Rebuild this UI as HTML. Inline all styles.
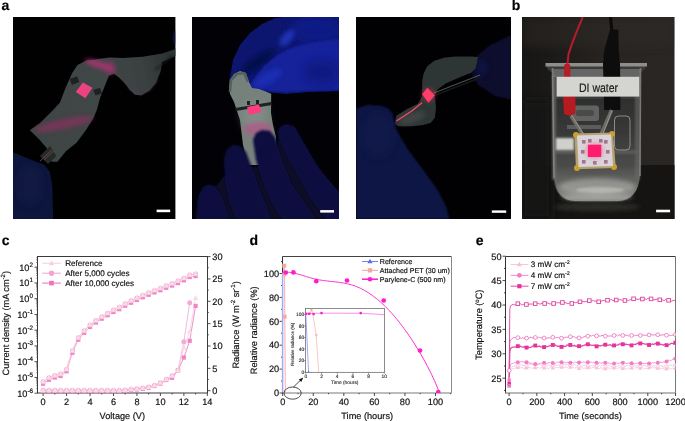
<!DOCTYPE html>
<html><head><meta charset="utf-8"><style>
html,body{margin:0;padding:0;background:#fff;}
body{width:685px;height:421px;overflow:hidden;font-family:"Liberation Sans",sans-serif;}
svg{display:block;will-change:transform;}
svg text{font-family:"Liberation Sans",sans-serif;stroke:#111;stroke-width:0.18px;text-rendering:geometricPrecision;}
</style></head><body>
<svg width="685" height="421" viewBox="0 0 685 421">
<rect width="685" height="421" fill="#fff"/>
<defs>
<filter id="b03" x="-20%" y="-20%" width="140%" height="140%"><feGaussianBlur stdDeviation="0.35"/></filter>
<filter id="b06" x="-20%" y="-20%" width="140%" height="140%"><feGaussianBlur stdDeviation="0.6"/></filter>
<filter id="b1" x="-30%" y="-30%" width="160%" height="160%"><feGaussianBlur stdDeviation="1"/></filter>
<filter id="b2" x="-50%" y="-50%" width="200%" height="200%"><feGaussianBlur stdDeviation="2"/></filter>
<filter id="b4" x="-50%" y="-50%" width="200%" height="200%"><feGaussianBlur stdDeviation="4"/></filter>
<filter id="b7" x="-80%" y="-80%" width="260%" height="260%"><feGaussianBlur stdDeviation="7"/></filter>
<clipPath id="p1"><rect x="13" y="17" width="162.4" height="202"/></clipPath>
<clipPath id="p2"><rect x="192" y="17" width="147.1" height="202"/></clipPath>
<clipPath id="p3"><rect x="356" y="17" width="155" height="202"/></clipPath>
<clipPath id="p4"><rect x="522" y="17" width="152.5" height="202"/></clipPath>
<linearGradient id="g1film" x1="0" y1="0.5" x2="1" y2="0.3"><stop offset="0" stop-color="#3e4444"/><stop offset="0.55" stop-color="#404646"/><stop offset="0.8" stop-color="#3a4040"/><stop offset="1" stop-color="#2c3232"/></linearGradient>
<linearGradient id="g2glove" x1="0" y1="0.6" x2="1" y2="0.2"><stop offset="0" stop-color="#0a1164"/><stop offset="0.45" stop-color="#111e90"/><stop offset="1" stop-color="#1e2eb8"/></linearGradient>
<linearGradient id="g4bg" x1="0" y1="0" x2="1" y2="0"><stop offset="0" stop-color="#171615"/><stop offset="0.2" stop-color="#1c1a18"/><stop offset="0.6" stop-color="#292523"/><stop offset="1" stop-color="#292624"/></linearGradient>
<linearGradient id="g4water" x1="0" y1="0" x2="0" y2="1"><stop offset="0" stop-color="#2e2f2e"/><stop offset="0.33" stop-color="#383938"/><stop offset="0.65" stop-color="#4a4b4a"/><stop offset="0.8" stop-color="#626361"/><stop offset="1" stop-color="#8e8f8b"/></linearGradient>
</defs>
<g clip-path="url(#p1)">
<rect x="13" y="17" width="163" height="202" fill="#010102"/>
<polygon points="77.5,64.9 86.3,60.5 95.0,59.6 105.5,57.9 110.0,57.4 123.0,58.1 142.7,56.8 162.3,53.5 174.0,49.6 176.0,48.0 176.0,56.0 172.0,57.5 162.3,62.0 160.3,72.5 155.8,82.9 149.2,90.8 141.4,95.3 134.8,94.7 129.6,89.4 124.4,82.9 119.2,77.7 113.9,73.8 109.1,75.4 107.3,79.8 100.3,97.3 96.8,110.0 93.5,118.0 86.0,130.0 76.5,142.7 65.9,151.2 57.4,161.7 51.8,161.7 46.6,148.0 38.9,139.0 29.8,130.2 40.0,123.0 53.1,110.0 60.0,102.6 65.3,88.5 72.3,72.8" fill="url(#g1film)" filter="url(#b03)"/>
<ellipse cx="100" cy="65" rx="16" ry="3.5" fill="#c8307a" opacity="0.7" filter="url(#b2)" transform="rotate(18 100 65)"/>
<ellipse cx="110" cy="68" rx="5" ry="7" fill="#a03070" opacity="0.55" filter="url(#b2)"/>
<polyline points="128,88 140,95 150,90 158,80" fill="none" stroke="#5a4060" stroke-width="1.5" opacity="0.5" filter="url(#b1)"/>
<line x1="155" y1="70" x2="174" y2="55" stroke="#1c2020" stroke-width="1.5" filter="url(#b1)"/>
<ellipse cx="64" cy="124" rx="30" ry="5" fill="#a02c68" opacity="0.55" filter="url(#b2)" transform="rotate(-12 64 124)"/>
<polygon points="69.6,79.0 77.0,76.3 79.3,82.0 72.0,85.0" fill="#1e2220" filter="url(#b03)"/>
<polygon points="93.3,90.0 100.0,87.7 102.0,93.5 95.5,95.5" fill="#1e2220" filter="url(#b03)"/>
<polygon points="75.8,92.0 82.8,82.4 92.4,87.7 85.4,98.2" fill="#ec4380" filter="url(#b03)"/>
<polygon points="40.0,156.0 50.0,146.0 56.4,156.0 48.0,164.0" fill="#262a26" filter="url(#b03)"/>
<line x1="40" y1="161" x2="52" y2="150" stroke="#a04060" stroke-width="0.8"/>
<line x1="44" y1="160" x2="54" y2="151" stroke="#4a7a50" stroke-width="0.6"/>
<polygon points="13.0,152.2 25.7,157.5 36.3,161.7 44.7,164.9 50.0,172.3 52.2,185.0 53.2,219.0 13.0,219.0" fill="#10153e" filter="url(#b06)"/>
<ellipse cx="30" cy="185" rx="12" ry="20" fill="#141a46" opacity="0.6" filter="url(#b4)"/>
<ellipse cx="175.5" cy="38" rx="2.5" ry="8" fill="#141a50" opacity="0.7" filter="url(#b1)"/>
<rect x="156.6" y="209.6" width="13.6" height="2.6" fill="#fff"/>
</g>
<g clip-path="url(#p2)">
<rect x="192" y="17" width="148" height="202" fill="#020206"/>
<polygon points="229.0,82.0 231.0,72.0 233.0,60.0 240.0,45.0 250.0,33.0 262.0,24.0 275.0,18.0 285.0,17.0 340.0,17.0 340.0,91.0 308.0,92.0 286.0,94.0 264.0,92.0 250.0,89.0 240.0,83.0 234.0,82.0" fill="#0b146e" filter="url(#b06)"/>
<ellipse cx="316" cy="30" rx="26" ry="14" fill="#111e8c" opacity="0.8" filter="url(#b4)"/>
<ellipse cx="258" cy="62" rx="20" ry="6" fill="#050a48" opacity="0.85" filter="url(#b2)" transform="rotate(-35 258 62)"/>
<polygon points="247.6,88.0 256.0,76.0 264.0,66.0 276.0,56.0 286.0,50.0 300.0,45.0 320.0,41.5 340.0,39.0 340.0,90.0 308.0,90.5 286.0,92.0 264.0,90.5" fill="#14229a" filter="url(#b1)"/>
<ellipse cx="268" cy="78" rx="16" ry="6" fill="#1c2eb4" opacity="0.9" filter="url(#b2)" transform="rotate(-30 268 78)"/>
<ellipse cx="287" cy="38" rx="5" ry="10" fill="#2236bc" opacity="0.9" filter="url(#b2)" transform="rotate(40 287 38)"/>
<ellipse cx="322" cy="72" rx="18" ry="12" fill="#0c1878" opacity="0.7" filter="url(#b4)"/>
<polygon points="229.0,88.0 230.0,80.0 234.0,74.0 240.0,71.0 246.0,73.0 249.0,82.0 252.0,88.0 259.2,89.0 271.2,93.8 271.0,113.0 273.0,125.0 276.0,137.0 275.0,160.0 262.0,165.0 248.0,165.0 243.0,145.0 240.0,120.0 234.0,102.0 230.0,94.0" fill="#76817b" filter="url(#b03)"/>
<ellipse cx="254" cy="116" rx="12" ry="14" fill="#8a948e" opacity="0.6" filter="url(#b4)"/>
<polyline points="230,92 231,80 237,74 244,73 248,82" fill="none" stroke="#55605a" stroke-width="2.5" filter="url(#b06)"/>
<ellipse cx="258" cy="129" rx="14" ry="7" fill="#c04c8a" opacity="0.6" filter="url(#b2)"/>
<polygon points="235.0,108.0 271.0,102.0 272.0,105.0 236.0,111.0" fill="#1c2120" filter="url(#b03)"/>
<rect x="247" y="101" width="3" height="4" fill="#1c2120"/><rect x="256" y="100" width="3" height="4" fill="#1c2120"/>
<polygon points="247.0,107.0 259.0,104.5 261.5,112.0 249.0,115.0" fill="#ff3a82" filter="url(#b03)"/>
<polygon points="195.0,219.0 197.0,200.0 199.0,195.0 206.0,185.0 216.0,186.0 222.0,178.0 230.0,172.0 245.0,168.0 262.0,166.0 276.0,150.0 280.0,128.0 284.0,124.0 294.0,127.0 304.0,143.0 318.0,167.0 334.0,186.0 340.0,192.0 340.0,219.0" fill="#070a26" filter="url(#b1)"/>
<polygon points="197.0,219.0 199.0,195.0 203.0,187.0 208.0,184.5 214.0,186.0 220.0,193.0 225.0,205.0 229.0,219.0" fill="#0b1040" filter="url(#b1)"/>
<polygon points="224.0,158.0 227.0,149.0 233.0,145.0 240.0,146.0 246.0,152.0 252.0,168.0 259.0,188.0 266.0,205.0 271.0,219.0 236.0,219.0 229.0,200.0 225.0,180.0" fill="#0b1040" filter="url(#b1)"/>
<polygon points="253.0,140.0 256.0,133.0 262.0,130.0 270.0,131.0 275.0,137.0 282.0,160.0 292.0,185.0 305.0,203.0 316.0,219.0 282.0,219.0 272.0,203.0 263.0,182.0 256.0,160.0" fill="#0b1040" filter="url(#b1)"/>
<polygon points="277.0,132.0 281.0,126.0 288.0,124.0 295.0,127.0 303.0,142.0 318.0,167.0 333.0,186.0 340.0,193.0 340.0,219.0 326.0,219.0 310.0,198.0 296.0,172.0 284.0,150.0" fill="#0b1040" filter="url(#b1)"/>
<rect x="320.2" y="210.1" width="13.8" height="2.5" fill="#fff"/>
</g>
<g clip-path="url(#p3)">
<rect x="356" y="17" width="155" height="202" fill="#010103"/>
<polygon points="472.0,62.0 478.0,55.0 490.0,45.0 511.0,35.0 511.0,100.0 495.0,96.0 478.0,85.0 472.0,75.0" fill="#090b2e" filter="url(#b1)"/>
<ellipse cx="482" cy="68" rx="6" ry="9" fill="#0e1248" opacity="0.6" filter="url(#b2)"/>
<polygon points="422.1,81.3 423.6,73.8 427.1,66.6 434.3,60.7 443.8,57.7 455.6,56.5 469.9,56.5 478.2,57.1 475.5,68.5 471.2,72.8 460.5,77.1 445.6,83.5 437.0,89.9 434.9,96.3 436.0,107.0 434.9,117.7 430.6,123.0 422.1,125.2 411.4,126.2 398.6,126.2 394.3,124.1 396.4,115.5 407.1,109.1 417.8,103.8 422.1,96.3 422.1,87.8" fill="#2f3535" filter="url(#b03)"/>
<ellipse cx="412" cy="118" rx="14" ry="5" fill="#444a48" opacity="0.8" filter="url(#b2)" transform="rotate(-20 412 118)"/>
<line x1="433" y1="96" x2="482" y2="77" stroke="#141816" stroke-width="1.6"/>
<line x1="434" y1="93" x2="480" y2="75" stroke="#8a9290" stroke-width="0.6"/>
<polyline points="396.4,120.9 411.4,111.3 422.1,102.7" fill="none" stroke="#ff4a6a" stroke-width="1.2"/>
<ellipse cx="428.5" cy="95" rx="7" ry="7" fill="#ff3060" opacity="0.35" filter="url(#b2)"/>
<polygon points="422.1,94.2 427.4,87.8 434.9,95.2 428.5,102.7" fill="#ff3c66" filter="url(#b06)"/>
<polygon points="356.0,108.5 368.0,105.0 381.4,105.7 389.0,109.0 392.7,114.1 395.6,128.3 406.9,148.0 423.8,170.7 438.0,190.4 446.4,207.4 449.3,219.0 356.0,219.0" fill="#111644" filter="url(#b1)"/>
<ellipse cx="378" cy="135" rx="16" ry="22" fill="#151a50" opacity="0.5" filter="url(#b4)"/>
<rect x="491.8" y="210.4" width="14.4" height="2.4" fill="#fff"/>
</g>
<g clip-path="url(#p4)">
<rect x="522" y="17" width="153" height="202" fill="url(#g4bg)"/>
<rect x="522" y="17" width="153" height="30" fill="#2e2926" opacity="0.5" filter="url(#b4)"/>
<rect x="522" y="165" width="153" height="54" fill="#151413"/>
<rect x="522" y="100" width="30" height="119" fill="#131313" opacity="0.8" filter="url(#b4)"/>
<path d="M545.5,64.5 L647,64.5 L645,69 L640.5,73 L640,175 Q638,201 618,202 L575,202 Q555,201 553.5,178 L552.5,73 L547.5,69 Z" fill="#3a3b3a" filter="url(#b03)"/>
<path d="M553.5,99 L640,99 L640,175 Q638,200 618,201 L575,201 Q556,200 554.5,178 Z" fill="url(#g4water)" filter="url(#b03)"/>
<rect x="553" y="69" width="87" height="8" fill="#707070" opacity="0.8" filter="url(#b06)"/>
<rect x="555.5" y="138" width="18.5" height="13" fill="#cfcfcb" filter="url(#b1)"/>
<rect x="552" y="75" width="4" height="105" fill="#7a7a78" opacity="0.6" filter="url(#b1)"/>
<rect x="635" y="75" width="5" height="105" fill="#6a6a68" opacity="0.6" filter="url(#b1)"/>
<rect x="553.5" y="150" width="86" height="4" fill="#5e5f5d" opacity="0.8" filter="url(#b1)"/>
<ellipse cx="597" cy="187" rx="38" ry="9" fill="#a8a8a4" opacity="0.65" filter="url(#b2)"/>
<ellipse cx="600" cy="190" rx="24" ry="3" fill="#d0d0cc" opacity="0.5" filter="url(#b1)"/>
<ellipse cx="597" cy="197" rx="36" ry="4" fill="#b8b8b4" opacity="0.45" filter="url(#b2)"/>
<ellipse cx="597" cy="207" rx="44" ry="4" fill="#2e2e2c" opacity="0.9" filter="url(#b2)"/>
<rect x="571" y="105.5" width="28" height="15.5" rx="3" fill="#8a8a88" opacity="0.55" filter="url(#b06)"/>
<rect x="576" y="110" width="18" height="6" rx="2" fill="#3a3a3a" opacity="0.6"/>
<rect x="567" y="125" width="34" height="4" fill="#8a8a88" opacity="0.45" filter="url(#b06)"/>
<rect x="614.5" y="116" width="15.5" height="34" rx="4" fill="none" stroke="#a0a09e" stroke-width="1" opacity="0.8"/>
<rect x="545.5" y="63" width="101.5" height="3.5" fill="#8e8e8c" filter="url(#b03)"/>
<line x1="552.5" y1="68" x2="554" y2="178" stroke="#8a8a88" stroke-width="1.6" opacity="0.8"/>
<line x1="640.5" y1="68" x2="640" y2="176" stroke="#8a8a88" stroke-width="1.6" opacity="0.8"/>
<path d="M582.8,17 C577.8,28.4 572.1,42.7 568.5,54.1 L567.3,66" fill="none" stroke="#b81c28" stroke-width="2"/>
<rect x="564.2" y="64" width="6" height="34" rx="1.5" fill="#b81c26" filter="url(#b03)"/>
<polygon points="563.0,96.4 575.5,96.4 575.5,113.0 570.7,116.0 564.0,114.0" fill="#b41a22" filter="url(#b03)"/>
<path d="M610.5,17 L611.8,30" fill="none" stroke="#0c0c0c" stroke-width="3.2"/>
<polygon points="610.0,29.8 618.5,29.8 618.8,49.8 620.0,64.0 620.6,110.0 604.2,110.0 603.0,64.0 604.2,49.8" fill="#111" filter="url(#b03)"/>
<line x1="571" y1="115.7" x2="586" y2="140" stroke="#6e6a64" stroke-width="3.6"/>
<line x1="611.6" y1="110" x2="599" y2="139" stroke="#6e6a64" stroke-width="3.6"/>
<line x1="571.5" y1="115" x2="589" y2="143" stroke="#a0a09c" stroke-width="0.8"/>
<line x1="612" y1="110.5" x2="599.5" y2="143" stroke="#a0a09c" stroke-width="0.8"/>
<polygon points="574.5,133.5 613.0,132.4 615.8,168.0 576.0,169.2" fill="#b8a070" filter="url(#b06)"/>
<circle cx="576" cy="135" r="3" fill="#c8a030" filter="url(#b06)"/>
<circle cx="612" cy="134" r="3" fill="#c8a030" filter="url(#b06)"/>
<circle cx="614" cy="167" r="3" fill="#c8a030" filter="url(#b06)"/>
<circle cx="577" cy="168" r="3" fill="#c8a030" filter="url(#b06)"/>
<polygon points="577.0,135.5 611.0,134.5 613.0,166.0 578.5,167.0" fill="#d8d4d8" filter="url(#b03)"/>
<rect x="582" y="140" width="3.6" height="3.6" fill="#9a5a80" opacity="0.8"/>
<rect x="604" y="140" width="3.6" height="3.6" fill="#9a5a80" opacity="0.8"/>
<rect x="582" y="160" width="3.6" height="3.6" fill="#9a5a80" opacity="0.8"/>
<rect x="604" y="160" width="3.6" height="3.6" fill="#9a5a80" opacity="0.8"/>
<rect x="593" y="161" width="3.6" height="3.6" fill="#9a5a80" opacity="0.8"/>
<rect x="581" y="150" width="3.6" height="3.6" fill="#9a5a80" opacity="0.8"/>
<rect x="606" y="150" width="3.6" height="3.6" fill="#9a5a80" opacity="0.8"/>
<rect x="588" y="139" width="3.6" height="3.6" fill="#9a5a80" opacity="0.8"/>
<rect x="599" y="139" width="3.6" height="3.6" fill="#9a5a80" opacity="0.8"/>
<ellipse cx="594.6" cy="150.8" rx="9" ry="8" fill="#ff2a6a" opacity="0.35" filter="url(#b2)"/>
<rect x="587.9" y="144.7" width="13.4" height="12.3" fill="#ff1f6e" filter="url(#b03)"/>
<rect x="556.6" y="76.8" width="82.7" height="19.8" fill="#d4d4d1" filter="url(#b03)"/>
<text x="598.5" y="92" font-size="12.4" text-anchor="middle" fill="#222" textLength="39" lengthAdjust="spacingAndGlyphs">DI water</text>
<rect x="656.1" y="209.7" width="14" height="2.6" fill="#fff"/>
</g>
<text x="1.5" y="9.7" font-size="14" font-weight="bold" fill="#000">a</text>
<text x="511.8" y="9.7" font-size="14" font-weight="bold" fill="#000">b</text>
<text x="1.8" y="244.8" font-size="14" font-weight="bold" fill="#000">c</text>
<text x="249.6" y="244.8" font-size="14" font-weight="bold" fill="#000">d</text>
<text x="475.8" y="244.8" font-size="14" font-weight="bold" fill="#000">e</text>
<rect x="37.5" y="256.5" width="170.0" height="136.5" fill="none" stroke="#3a3a3a" stroke-width="1"/>
<line x1="34.5" y1="393.2" x2="37.5" y2="393.2" stroke="#3a3a3a" stroke-width="0.9"/>
<line x1="36.2" y1="388.46" x2="37.5" y2="388.46" stroke="#555" stroke-width="0.7"/>
<line x1="36.2" y1="385.69" x2="37.5" y2="385.69" stroke="#555" stroke-width="0.7"/>
<line x1="36.2" y1="383.72" x2="37.5" y2="383.72" stroke="#555" stroke-width="0.7"/>
<line x1="36.2" y1="382.19" x2="37.5" y2="382.19" stroke="#555" stroke-width="0.7"/>
<line x1="36.2" y1="380.94" x2="37.5" y2="380.94" stroke="#555" stroke-width="0.7"/>
<line x1="36.2" y1="379.89" x2="37.5" y2="379.89" stroke="#555" stroke-width="0.7"/>
<line x1="36.2" y1="378.98" x2="37.5" y2="378.98" stroke="#555" stroke-width="0.7"/>
<line x1="36.2" y1="378.17" x2="37.5" y2="378.17" stroke="#555" stroke-width="0.7"/>
<line x1="34.5" y1="377.45" x2="37.5" y2="377.45" stroke="#3a3a3a" stroke-width="0.9"/>
<line x1="36.2" y1="372.71" x2="37.5" y2="372.71" stroke="#555" stroke-width="0.7"/>
<line x1="36.2" y1="369.94" x2="37.5" y2="369.94" stroke="#555" stroke-width="0.7"/>
<line x1="36.2" y1="367.97" x2="37.5" y2="367.97" stroke="#555" stroke-width="0.7"/>
<line x1="36.2" y1="366.44" x2="37.5" y2="366.44" stroke="#555" stroke-width="0.7"/>
<line x1="36.2" y1="365.19" x2="37.5" y2="365.19" stroke="#555" stroke-width="0.7"/>
<line x1="36.2" y1="364.14" x2="37.5" y2="364.14" stroke="#555" stroke-width="0.7"/>
<line x1="36.2" y1="363.23" x2="37.5" y2="363.23" stroke="#555" stroke-width="0.7"/>
<line x1="36.2" y1="362.42" x2="37.5" y2="362.42" stroke="#555" stroke-width="0.7"/>
<line x1="34.5" y1="361.7" x2="37.5" y2="361.7" stroke="#3a3a3a" stroke-width="0.9"/>
<line x1="36.2" y1="356.96" x2="37.5" y2="356.96" stroke="#555" stroke-width="0.7"/>
<line x1="36.2" y1="354.19" x2="37.5" y2="354.19" stroke="#555" stroke-width="0.7"/>
<line x1="36.2" y1="352.22" x2="37.5" y2="352.22" stroke="#555" stroke-width="0.7"/>
<line x1="36.2" y1="350.69" x2="37.5" y2="350.69" stroke="#555" stroke-width="0.7"/>
<line x1="36.2" y1="349.44" x2="37.5" y2="349.44" stroke="#555" stroke-width="0.7"/>
<line x1="36.2" y1="348.39" x2="37.5" y2="348.39" stroke="#555" stroke-width="0.7"/>
<line x1="36.2" y1="347.48" x2="37.5" y2="347.48" stroke="#555" stroke-width="0.7"/>
<line x1="36.2" y1="346.67" x2="37.5" y2="346.67" stroke="#555" stroke-width="0.7"/>
<line x1="34.5" y1="345.95" x2="37.5" y2="345.95" stroke="#3a3a3a" stroke-width="0.9"/>
<line x1="36.2" y1="341.21" x2="37.5" y2="341.21" stroke="#555" stroke-width="0.7"/>
<line x1="36.2" y1="338.44" x2="37.5" y2="338.44" stroke="#555" stroke-width="0.7"/>
<line x1="36.2" y1="336.47" x2="37.5" y2="336.47" stroke="#555" stroke-width="0.7"/>
<line x1="36.2" y1="334.94" x2="37.5" y2="334.94" stroke="#555" stroke-width="0.7"/>
<line x1="36.2" y1="333.69" x2="37.5" y2="333.69" stroke="#555" stroke-width="0.7"/>
<line x1="36.2" y1="332.64" x2="37.5" y2="332.64" stroke="#555" stroke-width="0.7"/>
<line x1="36.2" y1="331.73" x2="37.5" y2="331.73" stroke="#555" stroke-width="0.7"/>
<line x1="36.2" y1="330.92" x2="37.5" y2="330.92" stroke="#555" stroke-width="0.7"/>
<line x1="34.5" y1="330.2" x2="37.5" y2="330.2" stroke="#3a3a3a" stroke-width="0.9"/>
<line x1="36.2" y1="325.46" x2="37.5" y2="325.46" stroke="#555" stroke-width="0.7"/>
<line x1="36.2" y1="322.69" x2="37.5" y2="322.69" stroke="#555" stroke-width="0.7"/>
<line x1="36.2" y1="320.72" x2="37.5" y2="320.72" stroke="#555" stroke-width="0.7"/>
<line x1="36.2" y1="319.19" x2="37.5" y2="319.19" stroke="#555" stroke-width="0.7"/>
<line x1="36.2" y1="317.94" x2="37.5" y2="317.94" stroke="#555" stroke-width="0.7"/>
<line x1="36.2" y1="316.89" x2="37.5" y2="316.89" stroke="#555" stroke-width="0.7"/>
<line x1="36.2" y1="315.98" x2="37.5" y2="315.98" stroke="#555" stroke-width="0.7"/>
<line x1="36.2" y1="315.17" x2="37.5" y2="315.17" stroke="#555" stroke-width="0.7"/>
<line x1="34.5" y1="314.45" x2="37.5" y2="314.45" stroke="#3a3a3a" stroke-width="0.9"/>
<line x1="36.2" y1="309.71" x2="37.5" y2="309.71" stroke="#555" stroke-width="0.7"/>
<line x1="36.2" y1="306.94" x2="37.5" y2="306.94" stroke="#555" stroke-width="0.7"/>
<line x1="36.2" y1="304.97" x2="37.5" y2="304.97" stroke="#555" stroke-width="0.7"/>
<line x1="36.2" y1="303.44" x2="37.5" y2="303.44" stroke="#555" stroke-width="0.7"/>
<line x1="36.2" y1="302.19" x2="37.5" y2="302.19" stroke="#555" stroke-width="0.7"/>
<line x1="36.2" y1="301.14" x2="37.5" y2="301.14" stroke="#555" stroke-width="0.7"/>
<line x1="36.2" y1="300.23" x2="37.5" y2="300.23" stroke="#555" stroke-width="0.7"/>
<line x1="36.2" y1="299.42" x2="37.5" y2="299.42" stroke="#555" stroke-width="0.7"/>
<line x1="34.5" y1="298.7" x2="37.5" y2="298.7" stroke="#3a3a3a" stroke-width="0.9"/>
<line x1="36.2" y1="293.96" x2="37.5" y2="293.96" stroke="#555" stroke-width="0.7"/>
<line x1="36.2" y1="291.19" x2="37.5" y2="291.19" stroke="#555" stroke-width="0.7"/>
<line x1="36.2" y1="289.22" x2="37.5" y2="289.22" stroke="#555" stroke-width="0.7"/>
<line x1="36.2" y1="287.69" x2="37.5" y2="287.69" stroke="#555" stroke-width="0.7"/>
<line x1="36.2" y1="286.44" x2="37.5" y2="286.44" stroke="#555" stroke-width="0.7"/>
<line x1="36.2" y1="285.39" x2="37.5" y2="285.39" stroke="#555" stroke-width="0.7"/>
<line x1="36.2" y1="284.48" x2="37.5" y2="284.48" stroke="#555" stroke-width="0.7"/>
<line x1="36.2" y1="283.67" x2="37.5" y2="283.67" stroke="#555" stroke-width="0.7"/>
<line x1="34.5" y1="282.95" x2="37.5" y2="282.95" stroke="#3a3a3a" stroke-width="0.9"/>
<line x1="36.2" y1="278.21" x2="37.5" y2="278.21" stroke="#555" stroke-width="0.7"/>
<line x1="36.2" y1="275.44" x2="37.5" y2="275.44" stroke="#555" stroke-width="0.7"/>
<line x1="36.2" y1="273.47" x2="37.5" y2="273.47" stroke="#555" stroke-width="0.7"/>
<line x1="36.2" y1="271.94" x2="37.5" y2="271.94" stroke="#555" stroke-width="0.7"/>
<line x1="36.2" y1="270.69" x2="37.5" y2="270.69" stroke="#555" stroke-width="0.7"/>
<line x1="36.2" y1="269.64" x2="37.5" y2="269.64" stroke="#555" stroke-width="0.7"/>
<line x1="36.2" y1="268.73" x2="37.5" y2="268.73" stroke="#555" stroke-width="0.7"/>
<line x1="36.2" y1="267.92" x2="37.5" y2="267.92" stroke="#555" stroke-width="0.7"/>
<line x1="34.5" y1="267.2" x2="37.5" y2="267.2" stroke="#3a3a3a" stroke-width="0.9"/>
<line x1="36.2" y1="262.46" x2="37.5" y2="262.46" stroke="#555" stroke-width="0.7"/>
<line x1="36.2" y1="259.69" x2="37.5" y2="259.69" stroke="#555" stroke-width="0.7"/>
<line x1="36.2" y1="257.72" x2="37.5" y2="257.72" stroke="#555" stroke-width="0.7"/>
<line x1="43.1" y1="393" x2="43.1" y2="396" stroke="#3a3a3a" stroke-width="0.9"/>
<line x1="54.83" y1="393" x2="54.83" y2="394.5" stroke="#3a3a3a" stroke-width="0.9"/>
<line x1="66.56" y1="393" x2="66.56" y2="396" stroke="#3a3a3a" stroke-width="0.9"/>
<line x1="78.29" y1="393" x2="78.29" y2="394.5" stroke="#3a3a3a" stroke-width="0.9"/>
<line x1="90.02" y1="393" x2="90.02" y2="396" stroke="#3a3a3a" stroke-width="0.9"/>
<line x1="101.75" y1="393" x2="101.75" y2="394.5" stroke="#3a3a3a" stroke-width="0.9"/>
<line x1="113.48" y1="393" x2="113.48" y2="396" stroke="#3a3a3a" stroke-width="0.9"/>
<line x1="125.21" y1="393" x2="125.21" y2="394.5" stroke="#3a3a3a" stroke-width="0.9"/>
<line x1="136.94" y1="393" x2="136.94" y2="396" stroke="#3a3a3a" stroke-width="0.9"/>
<line x1="148.67" y1="393" x2="148.67" y2="394.5" stroke="#3a3a3a" stroke-width="0.9"/>
<line x1="160.4" y1="393" x2="160.4" y2="396" stroke="#3a3a3a" stroke-width="0.9"/>
<line x1="172.13" y1="393" x2="172.13" y2="394.5" stroke="#3a3a3a" stroke-width="0.9"/>
<line x1="183.86" y1="393" x2="183.86" y2="396" stroke="#3a3a3a" stroke-width="0.9"/>
<line x1="195.59" y1="393" x2="195.59" y2="394.5" stroke="#3a3a3a" stroke-width="0.9"/>
<line x1="207.32" y1="393" x2="207.32" y2="396" stroke="#3a3a3a" stroke-width="0.9"/>
<line x1="207.5" y1="390.7" x2="210.5" y2="390.7" stroke="#3a3a3a" stroke-width="0.9"/>
<line x1="207.5" y1="379.52" x2="209" y2="379.52" stroke="#555" stroke-width="0.8"/>
<line x1="207.5" y1="368.35" x2="210.5" y2="368.35" stroke="#3a3a3a" stroke-width="0.9"/>
<line x1="207.5" y1="357.18" x2="209" y2="357.18" stroke="#555" stroke-width="0.8"/>
<line x1="207.5" y1="346" x2="210.5" y2="346" stroke="#3a3a3a" stroke-width="0.9"/>
<line x1="207.5" y1="334.82" x2="209" y2="334.82" stroke="#555" stroke-width="0.8"/>
<line x1="207.5" y1="323.65" x2="210.5" y2="323.65" stroke="#3a3a3a" stroke-width="0.9"/>
<line x1="207.5" y1="312.48" x2="209" y2="312.48" stroke="#555" stroke-width="0.8"/>
<line x1="207.5" y1="301.3" x2="210.5" y2="301.3" stroke="#3a3a3a" stroke-width="0.9"/>
<line x1="207.5" y1="290.12" x2="209" y2="290.12" stroke="#555" stroke-width="0.8"/>
<line x1="207.5" y1="278.95" x2="210.5" y2="278.95" stroke="#3a3a3a" stroke-width="0.9"/>
<line x1="207.5" y1="267.77" x2="209" y2="267.77" stroke="#555" stroke-width="0.8"/>
<line x1="207.5" y1="256.6" x2="210.5" y2="256.6" stroke="#3a3a3a" stroke-width="0.9"/>
<text x="33" y="396.5" font-size="9.2" text-anchor="end" fill="#111">10<tspan dy="-3.9" font-size="6.3">-6</tspan></text>
<text x="33" y="380.75" font-size="9.2" text-anchor="end" fill="#111">10<tspan dy="-3.9" font-size="6.3">-5</tspan></text>
<text x="33" y="365" font-size="9.2" text-anchor="end" fill="#111">10<tspan dy="-3.9" font-size="6.3">-4</tspan></text>
<text x="33" y="349.25" font-size="9.2" text-anchor="end" fill="#111">10<tspan dy="-3.9" font-size="6.3">-3</tspan></text>
<text x="33" y="333.5" font-size="9.2" text-anchor="end" fill="#111">10<tspan dy="-3.9" font-size="6.3">-2</tspan></text>
<text x="33" y="317.75" font-size="9.2" text-anchor="end" fill="#111">10<tspan dy="-3.9" font-size="6.3">-1</tspan></text>
<text x="33" y="302" font-size="9.2" text-anchor="end" fill="#111">10<tspan dy="-3.9" font-size="6.3">0</tspan></text>
<text x="33" y="286.25" font-size="9.2" text-anchor="end" fill="#111">10<tspan dy="-3.9" font-size="6.3">1</tspan></text>
<text x="33" y="270.5" font-size="9.2" text-anchor="end" fill="#111">10<tspan dy="-3.9" font-size="6.3">2</tspan></text>
<text x="212.3" y="394" font-size="9.2" text-anchor="start" fill="#111" >0</text>
<text x="212.3" y="371.65" font-size="9.2" text-anchor="start" fill="#111" >5</text>
<text x="212.3" y="349.3" font-size="9.2" text-anchor="start" fill="#111" >10</text>
<text x="212.3" y="326.95" font-size="9.2" text-anchor="start" fill="#111" >15</text>
<text x="212.3" y="304.6" font-size="9.2" text-anchor="start" fill="#111" >20</text>
<text x="212.3" y="282.25" font-size="9.2" text-anchor="start" fill="#111" >25</text>
<text x="212.3" y="259.9" font-size="9.2" text-anchor="start" fill="#111" >30</text>
<text x="43.1" y="404.8" font-size="9.2" text-anchor="middle" fill="#111" >0</text>
<text x="66.56" y="404.8" font-size="9.2" text-anchor="middle" fill="#111" >2</text>
<text x="90.02" y="404.8" font-size="9.2" text-anchor="middle" fill="#111" >4</text>
<text x="113.48" y="404.8" font-size="9.2" text-anchor="middle" fill="#111" >6</text>
<text x="136.94" y="404.8" font-size="9.2" text-anchor="middle" fill="#111" >8</text>
<text x="160.4" y="404.8" font-size="9.2" text-anchor="middle" fill="#111" >10</text>
<text x="183.86" y="404.8" font-size="9.2" text-anchor="middle" fill="#111" >12</text>
<text x="207.32" y="404.8" font-size="9.2" text-anchor="middle" fill="#111" >14</text>
<text x="122.3" y="418.6" font-size="9.2" text-anchor="middle" fill="#111" >Voltage (V)</text>
<text transform="translate(8.7,323.2) rotate(-90)" font-size="9.2" text-anchor="middle" fill="#111">Current density (mA cm<tspan dy="-3.5" font-size="6">-2</tspan><tspan dy="3.5">)</tspan></text>
<text transform="translate(238.5,324.9) rotate(-90)" font-size="9.2" text-anchor="middle" fill="#111">Radiance (W m<tspan dy="-3.5" font-size="6">-2</tspan><tspan dy="3.5"> sr</tspan><tspan dy="-3.5" font-size="6">-1</tspan><tspan dy="3.5">)</tspan></text>
<polyline points="43.1,383.7 48.97,379.8 54.83,377.5 60.7,376 66.56,371.3 72.43,352.8 78.29,339.7 84.16,332.8 90.02,327 95.89,322.5 101.75,318.7 107.62,315.2 113.48,312 119.34,309.2 125.21,305.7 131.08,302.8 136.94,300 142.81,297.3 148.67,294.8 154.53,292.4 160.4,290.3 166.27,287.8 172.13,285.6 178,283.1 183.86,280.3 189.72,277 195.59,276.1" fill="none" stroke="#f4a2cf" stroke-width="0.9" />
<polyline points="43.1,391.1 48.97,391.1 54.83,391.1 60.7,391.1 66.56,391.1 72.43,391.1 78.29,391.1 84.16,391.1 90.02,391.1 95.89,391.1 101.75,391.1 107.62,391.1 113.48,391.1 119.34,391.1 125.21,390.7 131.08,390.1 136.94,389.5 142.81,388.9 148.67,387.7 154.53,386 160.4,383.6 166.27,380.1 172.13,377.8 178,370.3 183.86,357.5 189.72,340.8 195.59,305.9" fill="none" stroke="#ee72ba" stroke-width="0.8" />
<polyline points="43.1,381.7 48.97,377.8 54.83,375.5 60.7,374 66.56,369.3 72.43,350.8 78.29,337.7 84.16,330.8 90.02,325 95.89,320.5 101.75,316.7 107.62,313.2 113.48,310 119.34,307.2 125.21,303.7 131.08,300.8 136.94,298 142.81,295.3 148.67,292.8 154.53,290.4 160.4,288.3 166.27,285.8 172.13,283.6 178,281.1 183.86,278.3 189.72,275 195.59,274.1" fill="none" stroke="#f2a3cf" stroke-width="0.8" />
<polyline points="43.1,390.3 48.97,390.3 54.83,390.3 60.7,390.3 66.56,390.3 72.43,390.3 78.29,390.3 84.16,390.3 90.02,390.3 95.89,390.3 101.75,390.3 107.62,390.3 113.48,390.3 119.34,390.3 125.21,389.9 131.08,389.3 136.94,388.7 142.81,388.1 148.67,386.9 154.53,385.2 160.4,382.8 166.27,379.3 172.13,375.8 178,370.3 183.86,341.7 189.72,302.7" fill="none" stroke="#f3a5d0" stroke-width="0.8" />
<polyline points="43.1,381.4 48.97,377.5 54.83,375.2 60.7,373.7 66.56,369 72.43,350.5 78.29,337.4 84.16,330.5 90.02,324.7 95.89,320.2 101.75,316.4 107.62,312.9 113.48,309.7 119.34,306.9 125.21,303.4 131.08,300.5 136.94,297.7 142.81,295 148.67,292.5 154.53,290.1 160.4,288 166.27,285.5 172.13,283.3 178,280.8 183.86,278 189.72,274.7 195.59,273.8" fill="none" stroke="#f8cfe2" stroke-width="0.8" />
<polyline points="43.1,390.3 48.97,390.3 54.83,390.3 60.7,390.3 66.56,390.3 72.43,390.3 78.29,390.3 84.16,390.3 90.02,390.3 95.89,390.3 101.75,390.3 107.62,390.3 113.48,390.3 119.34,390.3 125.21,389.9 131.08,389.3 136.94,388.7 142.81,388.1 148.67,386.9 154.53,385.2 160.4,382.8 166.27,379.3 172.13,375.8 178,370.3 183.86,347.8 189.72,331.5 195.59,298" fill="none" stroke="#f8cfe2" stroke-width="0.8" />
<rect x="41" y="381.6" width="4.2" height="4.2" fill="#ef86c4" stroke="none" stroke-width="0.6"/>
<rect x="46.87" y="377.7" width="4.2" height="4.2" fill="#ef86c4" stroke="none" stroke-width="0.6"/>
<rect x="52.73" y="375.4" width="4.2" height="4.2" fill="#ef86c4" stroke="none" stroke-width="0.6"/>
<rect x="58.59" y="373.9" width="4.2" height="4.2" fill="#ef86c4" stroke="none" stroke-width="0.6"/>
<rect x="64.46" y="369.2" width="4.2" height="4.2" fill="#ef86c4" stroke="none" stroke-width="0.6"/>
<rect x="70.33" y="350.7" width="4.2" height="4.2" fill="#ef86c4" stroke="none" stroke-width="0.6"/>
<rect x="76.19" y="337.6" width="4.2" height="4.2" fill="#ef86c4" stroke="none" stroke-width="0.6"/>
<rect x="82.06" y="330.7" width="4.2" height="4.2" fill="#ef86c4" stroke="none" stroke-width="0.6"/>
<rect x="87.92" y="324.9" width="4.2" height="4.2" fill="#ef86c4" stroke="none" stroke-width="0.6"/>
<rect x="93.79" y="320.4" width="4.2" height="4.2" fill="#ef86c4" stroke="none" stroke-width="0.6"/>
<rect x="99.65" y="316.6" width="4.2" height="4.2" fill="#ef86c4" stroke="none" stroke-width="0.6"/>
<rect x="105.52" y="313.1" width="4.2" height="4.2" fill="#ef86c4" stroke="none" stroke-width="0.6"/>
<rect x="111.38" y="309.9" width="4.2" height="4.2" fill="#ef86c4" stroke="none" stroke-width="0.6"/>
<rect x="117.25" y="307.1" width="4.2" height="4.2" fill="#ef86c4" stroke="none" stroke-width="0.6"/>
<rect x="123.11" y="303.6" width="4.2" height="4.2" fill="#ef86c4" stroke="none" stroke-width="0.6"/>
<rect x="128.98" y="300.7" width="4.2" height="4.2" fill="#ef86c4" stroke="none" stroke-width="0.6"/>
<rect x="134.84" y="297.9" width="4.2" height="4.2" fill="#ef86c4" stroke="none" stroke-width="0.6"/>
<rect x="140.71" y="295.2" width="4.2" height="4.2" fill="#ef86c4" stroke="none" stroke-width="0.6"/>
<rect x="146.57" y="292.7" width="4.2" height="4.2" fill="#ef86c4" stroke="none" stroke-width="0.6"/>
<rect x="152.44" y="290.3" width="4.2" height="4.2" fill="#ef86c4" stroke="none" stroke-width="0.6"/>
<rect x="158.3" y="288.2" width="4.2" height="4.2" fill="#ef86c4" stroke="none" stroke-width="0.6"/>
<rect x="164.17" y="285.7" width="4.2" height="4.2" fill="#ef86c4" stroke="none" stroke-width="0.6"/>
<rect x="170.03" y="283.5" width="4.2" height="4.2" fill="#ef86c4" stroke="none" stroke-width="0.6"/>
<rect x="175.9" y="281" width="4.2" height="4.2" fill="#ef86c4" stroke="none" stroke-width="0.6"/>
<rect x="181.76" y="278.2" width="4.2" height="4.2" fill="#ef86c4" stroke="none" stroke-width="0.6"/>
<rect x="187.62" y="274.9" width="4.2" height="4.2" fill="#ef86c4" stroke="none" stroke-width="0.6"/>
<rect x="193.49" y="274" width="4.2" height="4.2" fill="#ef86c4" stroke="none" stroke-width="0.6"/>
<rect x="41" y="389" width="4.2" height="4.2" fill="#ef86c4" stroke="none" stroke-width="0.6"/>
<rect x="46.87" y="389" width="4.2" height="4.2" fill="#ef86c4" stroke="none" stroke-width="0.6"/>
<rect x="52.73" y="389" width="4.2" height="4.2" fill="#ef86c4" stroke="none" stroke-width="0.6"/>
<rect x="58.59" y="389" width="4.2" height="4.2" fill="#ef86c4" stroke="none" stroke-width="0.6"/>
<rect x="64.46" y="389" width="4.2" height="4.2" fill="#ef86c4" stroke="none" stroke-width="0.6"/>
<rect x="70.33" y="389" width="4.2" height="4.2" fill="#ef86c4" stroke="none" stroke-width="0.6"/>
<rect x="76.19" y="389" width="4.2" height="4.2" fill="#ef86c4" stroke="none" stroke-width="0.6"/>
<rect x="82.06" y="389" width="4.2" height="4.2" fill="#ef86c4" stroke="none" stroke-width="0.6"/>
<rect x="87.92" y="389" width="4.2" height="4.2" fill="#ef86c4" stroke="none" stroke-width="0.6"/>
<rect x="93.79" y="389" width="4.2" height="4.2" fill="#ef86c4" stroke="none" stroke-width="0.6"/>
<rect x="99.65" y="389" width="4.2" height="4.2" fill="#ef86c4" stroke="none" stroke-width="0.6"/>
<rect x="105.52" y="389" width="4.2" height="4.2" fill="#ef86c4" stroke="none" stroke-width="0.6"/>
<rect x="111.38" y="389" width="4.2" height="4.2" fill="#ef86c4" stroke="none" stroke-width="0.6"/>
<rect x="117.25" y="389" width="4.2" height="4.2" fill="#ef86c4" stroke="none" stroke-width="0.6"/>
<rect x="123.11" y="388.6" width="4.2" height="4.2" fill="#ef86c4" stroke="none" stroke-width="0.6"/>
<rect x="128.98" y="388" width="4.2" height="4.2" fill="#ef86c4" stroke="none" stroke-width="0.6"/>
<rect x="134.84" y="387.4" width="4.2" height="4.2" fill="#ef86c4" stroke="none" stroke-width="0.6"/>
<rect x="140.71" y="386.8" width="4.2" height="4.2" fill="#ef86c4" stroke="none" stroke-width="0.6"/>
<rect x="146.57" y="385.6" width="4.2" height="4.2" fill="#ef86c4" stroke="none" stroke-width="0.6"/>
<rect x="152.44" y="383.9" width="4.2" height="4.2" fill="#ef86c4" stroke="none" stroke-width="0.6"/>
<rect x="158.3" y="381.5" width="4.2" height="4.2" fill="#ef86c4" stroke="none" stroke-width="0.6"/>
<rect x="164.17" y="378" width="4.2" height="4.2" fill="#ef86c4" stroke="none" stroke-width="0.6"/>
<rect x="170.03" y="375.7" width="4.2" height="4.2" fill="#ef86c4" stroke="none" stroke-width="0.6"/>
<rect x="175.9" y="368.2" width="4.2" height="4.2" fill="#ef86c4" stroke="none" stroke-width="0.6"/>
<rect x="181.76" y="355.4" width="4.2" height="4.2" fill="#ef86c4" stroke="none" stroke-width="0.6"/>
<rect x="187.62" y="338.7" width="4.2" height="4.2" fill="#ef86c4" stroke="none" stroke-width="0.6"/>
<rect x="193.49" y="303.8" width="4.2" height="4.2" fill="#ef86c4" stroke="none" stroke-width="0.6"/>
<circle cx="43.1" cy="381.7" r="2.5" fill="#f4acd4" stroke="none" stroke-width="0.6"/>
<circle cx="48.97" cy="377.8" r="2.5" fill="#f4acd4" stroke="none" stroke-width="0.6"/>
<circle cx="54.83" cy="375.5" r="2.5" fill="#f4acd4" stroke="none" stroke-width="0.6"/>
<circle cx="60.7" cy="374" r="2.5" fill="#f4acd4" stroke="none" stroke-width="0.6"/>
<circle cx="66.56" cy="369.3" r="2.5" fill="#f4acd4" stroke="none" stroke-width="0.6"/>
<circle cx="72.43" cy="350.8" r="2.5" fill="#f4acd4" stroke="none" stroke-width="0.6"/>
<circle cx="78.29" cy="337.7" r="2.5" fill="#f4acd4" stroke="none" stroke-width="0.6"/>
<circle cx="84.16" cy="330.8" r="2.5" fill="#f4acd4" stroke="none" stroke-width="0.6"/>
<circle cx="90.02" cy="325" r="2.5" fill="#f4acd4" stroke="none" stroke-width="0.6"/>
<circle cx="95.89" cy="320.5" r="2.5" fill="#f4acd4" stroke="none" stroke-width="0.6"/>
<circle cx="101.75" cy="316.7" r="2.5" fill="#f4acd4" stroke="none" stroke-width="0.6"/>
<circle cx="107.62" cy="313.2" r="2.5" fill="#f4acd4" stroke="none" stroke-width="0.6"/>
<circle cx="113.48" cy="310" r="2.5" fill="#f4acd4" stroke="none" stroke-width="0.6"/>
<circle cx="119.34" cy="307.2" r="2.5" fill="#f4acd4" stroke="none" stroke-width="0.6"/>
<circle cx="125.21" cy="303.7" r="2.5" fill="#f4acd4" stroke="none" stroke-width="0.6"/>
<circle cx="131.08" cy="300.8" r="2.5" fill="#f4acd4" stroke="none" stroke-width="0.6"/>
<circle cx="136.94" cy="298" r="2.5" fill="#f4acd4" stroke="none" stroke-width="0.6"/>
<circle cx="142.81" cy="295.3" r="2.5" fill="#f4acd4" stroke="none" stroke-width="0.6"/>
<circle cx="148.67" cy="292.8" r="2.5" fill="#f4acd4" stroke="none" stroke-width="0.6"/>
<circle cx="154.53" cy="290.4" r="2.5" fill="#f4acd4" stroke="none" stroke-width="0.6"/>
<circle cx="160.4" cy="288.3" r="2.5" fill="#f4acd4" stroke="none" stroke-width="0.6"/>
<circle cx="166.27" cy="285.8" r="2.5" fill="#f4acd4" stroke="none" stroke-width="0.6"/>
<circle cx="172.13" cy="283.6" r="2.5" fill="#f4acd4" stroke="none" stroke-width="0.6"/>
<circle cx="178" cy="281.1" r="2.5" fill="#f4acd4" stroke="none" stroke-width="0.6"/>
<circle cx="183.86" cy="278.3" r="2.5" fill="#f4acd4" stroke="none" stroke-width="0.6"/>
<circle cx="189.72" cy="275" r="2.5" fill="#f4acd4" stroke="none" stroke-width="0.6"/>
<circle cx="195.59" cy="274.1" r="2.5" fill="#f4acd4" stroke="none" stroke-width="0.6"/>
<circle cx="43.1" cy="390.3" r="2.5" fill="#f4acd4" stroke="none" stroke-width="0.6"/>
<circle cx="48.97" cy="390.3" r="2.5" fill="#f4acd4" stroke="none" stroke-width="0.6"/>
<circle cx="54.83" cy="390.3" r="2.5" fill="#f4acd4" stroke="none" stroke-width="0.6"/>
<circle cx="60.7" cy="390.3" r="2.5" fill="#f4acd4" stroke="none" stroke-width="0.6"/>
<circle cx="66.56" cy="390.3" r="2.5" fill="#f4acd4" stroke="none" stroke-width="0.6"/>
<circle cx="72.43" cy="390.3" r="2.5" fill="#f4acd4" stroke="none" stroke-width="0.6"/>
<circle cx="78.29" cy="390.3" r="2.5" fill="#f4acd4" stroke="none" stroke-width="0.6"/>
<circle cx="84.16" cy="390.3" r="2.5" fill="#f4acd4" stroke="none" stroke-width="0.6"/>
<circle cx="90.02" cy="390.3" r="2.5" fill="#f4acd4" stroke="none" stroke-width="0.6"/>
<circle cx="95.89" cy="390.3" r="2.5" fill="#f4acd4" stroke="none" stroke-width="0.6"/>
<circle cx="101.75" cy="390.3" r="2.5" fill="#f4acd4" stroke="none" stroke-width="0.6"/>
<circle cx="107.62" cy="390.3" r="2.5" fill="#f4acd4" stroke="none" stroke-width="0.6"/>
<circle cx="113.48" cy="390.3" r="2.5" fill="#f4acd4" stroke="none" stroke-width="0.6"/>
<circle cx="119.34" cy="390.3" r="2.5" fill="#f4acd4" stroke="none" stroke-width="0.6"/>
<circle cx="125.21" cy="389.9" r="2.5" fill="#f4acd4" stroke="none" stroke-width="0.6"/>
<circle cx="131.08" cy="389.3" r="2.5" fill="#f4acd4" stroke="none" stroke-width="0.6"/>
<circle cx="136.94" cy="388.7" r="2.5" fill="#f4acd4" stroke="none" stroke-width="0.6"/>
<circle cx="142.81" cy="388.1" r="2.5" fill="#f4acd4" stroke="none" stroke-width="0.6"/>
<circle cx="148.67" cy="386.9" r="2.5" fill="#f4acd4" stroke="none" stroke-width="0.6"/>
<circle cx="154.53" cy="385.2" r="2.5" fill="#f4acd4" stroke="none" stroke-width="0.6"/>
<circle cx="160.4" cy="382.8" r="2.5" fill="#f4acd4" stroke="none" stroke-width="0.6"/>
<circle cx="166.27" cy="379.3" r="2.5" fill="#f4acd4" stroke="none" stroke-width="0.6"/>
<circle cx="172.13" cy="375.8" r="2.5" fill="#f4acd4" stroke="none" stroke-width="0.6"/>
<circle cx="178" cy="370.3" r="2.5" fill="#f4acd4" stroke="none" stroke-width="0.6"/>
<circle cx="183.86" cy="341.7" r="2.5" fill="#f4acd4" stroke="none" stroke-width="0.6"/>
<circle cx="189.72" cy="302.7" r="2.5" fill="#f4acd4" stroke="none" stroke-width="0.6"/>
<polygon points="43.1,378.38 45.9,383.42 40.3,383.42" fill="#fad9e8" stroke="none" stroke-width="0.6"/>
<polygon points="48.97,374.48 51.77,379.52 46.17,379.52" fill="#fad9e8" stroke="none" stroke-width="0.6"/>
<polygon points="54.83,372.18 57.63,377.22 52.03,377.22" fill="#fad9e8" stroke="none" stroke-width="0.6"/>
<polygon points="60.7,370.68 63.49,375.72 57.9,375.72" fill="#fad9e8" stroke="none" stroke-width="0.6"/>
<polygon points="66.56,365.98 69.36,371.02 63.76,371.02" fill="#fad9e8" stroke="none" stroke-width="0.6"/>
<polygon points="72.43,347.48 75.23,352.52 69.63,352.52" fill="#fad9e8" stroke="none" stroke-width="0.6"/>
<polygon points="78.29,334.38 81.09,339.42 75.49,339.42" fill="#fad9e8" stroke="none" stroke-width="0.6"/>
<polygon points="84.16,327.48 86.95,332.52 81.36,332.52" fill="#fad9e8" stroke="none" stroke-width="0.6"/>
<polygon points="90.02,321.68 92.82,326.72 87.22,326.72" fill="#fad9e8" stroke="none" stroke-width="0.6"/>
<polygon points="95.89,317.18 98.69,322.22 93.09,322.22" fill="#fad9e8" stroke="none" stroke-width="0.6"/>
<polygon points="101.75,313.38 104.55,318.42 98.95,318.42" fill="#fad9e8" stroke="none" stroke-width="0.6"/>
<polygon points="107.62,309.88 110.42,314.92 104.82,314.92" fill="#fad9e8" stroke="none" stroke-width="0.6"/>
<polygon points="113.48,306.68 116.28,311.72 110.68,311.72" fill="#fad9e8" stroke="none" stroke-width="0.6"/>
<polygon points="119.34,303.88 122.14,308.92 116.55,308.92" fill="#fad9e8" stroke="none" stroke-width="0.6"/>
<polygon points="125.21,300.38 128.01,305.42 122.41,305.42" fill="#fad9e8" stroke="none" stroke-width="0.6"/>
<polygon points="131.08,297.48 133.88,302.52 128.28,302.52" fill="#fad9e8" stroke="none" stroke-width="0.6"/>
<polygon points="136.94,294.68 139.74,299.72 134.14,299.72" fill="#fad9e8" stroke="none" stroke-width="0.6"/>
<polygon points="142.81,291.98 145.61,297.02 140,297.02" fill="#fad9e8" stroke="none" stroke-width="0.6"/>
<polygon points="148.67,289.48 151.47,294.52 145.87,294.52" fill="#fad9e8" stroke="none" stroke-width="0.6"/>
<polygon points="154.53,287.08 157.34,292.12 151.73,292.12" fill="#fad9e8" stroke="none" stroke-width="0.6"/>
<polygon points="160.4,284.98 163.2,290.02 157.6,290.02" fill="#fad9e8" stroke="none" stroke-width="0.6"/>
<polygon points="166.27,282.48 169.07,287.52 163.47,287.52" fill="#fad9e8" stroke="none" stroke-width="0.6"/>
<polygon points="172.13,280.28 174.93,285.32 169.33,285.32" fill="#fad9e8" stroke="none" stroke-width="0.6"/>
<polygon points="178,277.78 180.8,282.82 175.19,282.82" fill="#fad9e8" stroke="none" stroke-width="0.6"/>
<polygon points="183.86,274.98 186.66,280.02 181.06,280.02" fill="#fad9e8" stroke="none" stroke-width="0.6"/>
<polygon points="189.72,271.68 192.53,276.72 186.92,276.72" fill="#fad9e8" stroke="none" stroke-width="0.6"/>
<polygon points="195.59,270.78 198.39,275.82 192.79,275.82" fill="#fad9e8" stroke="none" stroke-width="0.6"/>
<polygon points="43.1,387.28 45.9,392.32 40.3,392.32" fill="#fad9e8" stroke="none" stroke-width="0.6"/>
<polygon points="48.97,387.28 51.77,392.32 46.17,392.32" fill="#fad9e8" stroke="none" stroke-width="0.6"/>
<polygon points="54.83,387.28 57.63,392.32 52.03,392.32" fill="#fad9e8" stroke="none" stroke-width="0.6"/>
<polygon points="60.7,387.28 63.49,392.32 57.9,392.32" fill="#fad9e8" stroke="none" stroke-width="0.6"/>
<polygon points="66.56,387.28 69.36,392.32 63.76,392.32" fill="#fad9e8" stroke="none" stroke-width="0.6"/>
<polygon points="72.43,387.28 75.23,392.32 69.63,392.32" fill="#fad9e8" stroke="none" stroke-width="0.6"/>
<polygon points="78.29,387.28 81.09,392.32 75.49,392.32" fill="#fad9e8" stroke="none" stroke-width="0.6"/>
<polygon points="84.16,387.28 86.95,392.32 81.36,392.32" fill="#fad9e8" stroke="none" stroke-width="0.6"/>
<polygon points="90.02,387.28 92.82,392.32 87.22,392.32" fill="#fad9e8" stroke="none" stroke-width="0.6"/>
<polygon points="95.89,387.28 98.69,392.32 93.09,392.32" fill="#fad9e8" stroke="none" stroke-width="0.6"/>
<polygon points="101.75,387.28 104.55,392.32 98.95,392.32" fill="#fad9e8" stroke="none" stroke-width="0.6"/>
<polygon points="107.62,387.28 110.42,392.32 104.82,392.32" fill="#fad9e8" stroke="none" stroke-width="0.6"/>
<polygon points="113.48,387.28 116.28,392.32 110.68,392.32" fill="#fad9e8" stroke="none" stroke-width="0.6"/>
<polygon points="119.34,387.28 122.14,392.32 116.55,392.32" fill="#fad9e8" stroke="none" stroke-width="0.6"/>
<polygon points="125.21,386.88 128.01,391.92 122.41,391.92" fill="#fad9e8" stroke="none" stroke-width="0.6"/>
<polygon points="131.08,386.28 133.88,391.32 128.28,391.32" fill="#fad9e8" stroke="none" stroke-width="0.6"/>
<polygon points="136.94,385.68 139.74,390.72 134.14,390.72" fill="#fad9e8" stroke="none" stroke-width="0.6"/>
<polygon points="142.81,385.08 145.61,390.12 140,390.12" fill="#fad9e8" stroke="none" stroke-width="0.6"/>
<polygon points="148.67,383.88 151.47,388.92 145.87,388.92" fill="#fad9e8" stroke="none" stroke-width="0.6"/>
<polygon points="154.53,382.18 157.34,387.22 151.73,387.22" fill="#fad9e8" stroke="none" stroke-width="0.6"/>
<polygon points="160.4,379.78 163.2,384.82 157.6,384.82" fill="#fad9e8" stroke="none" stroke-width="0.6"/>
<polygon points="166.27,376.28 169.07,381.32 163.47,381.32" fill="#fad9e8" stroke="none" stroke-width="0.6"/>
<polygon points="172.13,372.78 174.93,377.82 169.33,377.82" fill="#fad9e8" stroke="none" stroke-width="0.6"/>
<polygon points="178,367.28 180.8,372.32 175.19,372.32" fill="#fad9e8" stroke="none" stroke-width="0.6"/>
<polygon points="183.86,344.78 186.66,349.82 181.06,349.82" fill="#fad9e8" stroke="none" stroke-width="0.6"/>
<polygon points="189.72,328.48 192.53,333.52 186.92,333.52" fill="#fad9e8" stroke="none" stroke-width="0.6"/>
<polygon points="195.59,294.98 198.39,300.02 192.79,300.02" fill="#fad9e8" stroke="none" stroke-width="0.6"/>
<line x1="42.3" y1="263.3" x2="60.8" y2="263.3" stroke="#f8cfe2" stroke-width="1.0"/>
<polygon points="51.5,260.38 54.2,265.24 48.8,265.24" fill="#f8cde1" stroke="none" stroke-width="0.6"/>
<text x="65.2" y="266.2" font-size="8.1" text-anchor="start" fill="#111" >Reference</text>
<line x1="42.3" y1="273.2" x2="60.8" y2="273.2" stroke="#f2a3cf" stroke-width="1.0"/>
<circle cx="51.5" cy="273.2" r="2.7" fill="#f3a5d0" stroke="none" stroke-width="0.6"/>
<text x="65.2" y="276.1" font-size="8.1" text-anchor="start" fill="#111" >After 5,000 cycles</text>
<line x1="42.3" y1="283.1" x2="60.8" y2="283.1" stroke="#f4a2cf" stroke-width="1.6"/>
<rect x="49.2" y="280.8" width="4.6" height="4.6" fill="#ee72ba" stroke="none" stroke-width="0.6"/>
<text x="65.2" y="286" font-size="8.1" text-anchor="start" fill="#111" >After 10,000 cycles</text>
<line x1="282.5" y1="256.5" x2="451.5" y2="256.5" stroke="#444" stroke-width="1"/>
<line x1="282.5" y1="256.5" x2="282.5" y2="393.5" stroke="#333" stroke-width="1"/>
<line x1="451.5" y1="256.5" x2="451.5" y2="393" stroke="#8a8a8a" stroke-width="1"/>
<line x1="282.5" y1="393" x2="451.5" y2="393" stroke="#a6a6a6" stroke-width="1.7"/>
<line x1="279.5" y1="393" x2="282.5" y2="393" stroke="#333" stroke-width="0.9"/>
<line x1="281" y1="381.05" x2="282.5" y2="381.05" stroke="#333" stroke-width="0.9"/>
<line x1="279.5" y1="369.1" x2="282.5" y2="369.1" stroke="#333" stroke-width="0.9"/>
<line x1="281" y1="357.15" x2="282.5" y2="357.15" stroke="#333" stroke-width="0.9"/>
<line x1="279.5" y1="345.2" x2="282.5" y2="345.2" stroke="#333" stroke-width="0.9"/>
<line x1="281" y1="333.25" x2="282.5" y2="333.25" stroke="#333" stroke-width="0.9"/>
<line x1="279.5" y1="321.3" x2="282.5" y2="321.3" stroke="#333" stroke-width="0.9"/>
<line x1="281" y1="309.35" x2="282.5" y2="309.35" stroke="#333" stroke-width="0.9"/>
<line x1="279.5" y1="297.4" x2="282.5" y2="297.4" stroke="#333" stroke-width="0.9"/>
<line x1="281" y1="285.45" x2="282.5" y2="285.45" stroke="#333" stroke-width="0.9"/>
<line x1="279.5" y1="273.5" x2="282.5" y2="273.5" stroke="#333" stroke-width="0.9"/>
<line x1="281" y1="261.55" x2="282.5" y2="261.55" stroke="#333" stroke-width="0.9"/>
<line x1="282.7" y1="393" x2="282.7" y2="396" stroke="#333" stroke-width="0.9"/>
<line x1="297.98" y1="393" x2="297.98" y2="394.2" stroke="#333" stroke-width="0.9"/>
<line x1="313.26" y1="393" x2="313.26" y2="396" stroke="#333" stroke-width="0.9"/>
<line x1="328.54" y1="393" x2="328.54" y2="394.2" stroke="#333" stroke-width="0.9"/>
<line x1="343.82" y1="393" x2="343.82" y2="396" stroke="#333" stroke-width="0.9"/>
<line x1="359.1" y1="393" x2="359.1" y2="394.2" stroke="#333" stroke-width="0.9"/>
<line x1="374.38" y1="393" x2="374.38" y2="396" stroke="#333" stroke-width="0.9"/>
<line x1="389.66" y1="393" x2="389.66" y2="394.2" stroke="#333" stroke-width="0.9"/>
<line x1="404.94" y1="393" x2="404.94" y2="396" stroke="#333" stroke-width="0.9"/>
<line x1="420.22" y1="393" x2="420.22" y2="394.2" stroke="#333" stroke-width="0.9"/>
<line x1="435.5" y1="393" x2="435.5" y2="396" stroke="#333" stroke-width="0.9"/>
<line x1="450.78" y1="393" x2="450.78" y2="394.2" stroke="#333" stroke-width="0.9"/>
<text x="279.2" y="396.2" font-size="9.2" text-anchor="end" fill="#111" >0</text>
<text x="279.2" y="372.3" font-size="9.2" text-anchor="end" fill="#111" >20</text>
<text x="279.2" y="348.4" font-size="9.2" text-anchor="end" fill="#111" >40</text>
<text x="279.2" y="324.5" font-size="9.2" text-anchor="end" fill="#111" >60</text>
<text x="279.2" y="300.6" font-size="9.2" text-anchor="end" fill="#111" >80</text>
<text x="279.2" y="276.7" font-size="9.2" text-anchor="end" fill="#111" >100</text>
<text x="282.7" y="404.7" font-size="9.2" text-anchor="middle" fill="#111" >0</text>
<text x="313.26" y="404.7" font-size="9.2" text-anchor="middle" fill="#111" >20</text>
<text x="343.82" y="404.7" font-size="9.2" text-anchor="middle" fill="#111" >40</text>
<text x="374.38" y="404.7" font-size="9.2" text-anchor="middle" fill="#111" >60</text>
<text x="404.94" y="404.7" font-size="9.2" text-anchor="middle" fill="#111" >80</text>
<text x="435.5" y="404.7" font-size="9.2" text-anchor="middle" fill="#111" >100</text>
<text x="367.2" y="418.6" font-size="9.2" text-anchor="middle" fill="#111" >Time (hours)</text>
<text transform="translate(257.4,330.3) rotate(-90)" font-size="9.2" text-anchor="middle" fill="#111">Relative radiance (%)</text>
<line x1="282.6" y1="273.5" x2="282.6" y2="392.2" stroke="#a2a9f6" stroke-width="1.5"/>
<polyline points="283.2,273.5 284.2,265.8 284.6,273.8 284.8,316.7 285.3,393" fill="none" stroke="#f7a3a3" stroke-width="0.9" />
<rect x="282.2" y="263.7" width="4" height="4" fill="#f6a8a8" stroke="none" stroke-width="0.6"/>
<rect x="282.6" y="314.7" width="4" height="4" fill="#f6a8a8" stroke="none" stroke-width="0.6"/>
<rect x="282.5" y="272.3" width="3.8" height="3.8" fill="#f6a8a8" stroke="none" stroke-width="0.6"/>
<clipPath id="cd"><rect x="282.5" y="256.5" width="169.0" height="136.5"/></clipPath>
<g clip-path="url(#cd)">
<polyline points="283,272.13 284.32,272.07 285.63,272.07 286.95,272.11 288.26,272.21 289.58,272.35 290.89,272.54 292.21,272.76 293.52,273.01 294.84,273.3 296.15,273.61 297.47,273.95 298.78,274.31 300.1,274.68 301.41,275.07 302.73,275.47 304.04,275.87 305.36,276.28 306.67,276.68 307.99,277.08 309.3,277.47 310.62,277.86 311.93,278.22 313.25,278.57 314.56,278.9 315.88,279.2 317.19,279.48 318.51,279.73 319.82,279.97 321.14,280.18 322.45,280.38 323.77,280.57 325.08,280.74 326.4,280.9 327.71,281.05 329.03,281.2 330.34,281.34 331.66,281.49 332.97,281.63 334.29,281.77 335.61,281.92 336.92,282.08 338.24,282.24 339.55,282.42 340.87,282.61 342.18,282.81 343.5,283.03 344.81,283.27 346.13,283.54 347.44,283.82 348.76,284.13 350.07,284.47 351.39,284.84 352.7,285.24 354.02,285.68 355.33,286.15 356.65,286.65 357.96,287.2 359.28,287.77 360.59,288.39 361.91,289.04 363.22,289.72 364.54,290.44 365.85,291.2 367.17,291.99 368.48,292.82 369.8,293.68 371.11,294.58 372.43,295.51 373.74,296.48 375.06,297.49 376.37,298.53 377.69,299.6 379,300.71 380.32,301.86 381.63,303.04 382.95,304.25 384.26,305.51 385.58,306.79 386.89,308.11 388.21,309.47 389.53,310.86 390.84,312.28 392.16,313.74 393.47,315.24 394.79,316.77 396.1,318.33 397.42,319.93 398.73,321.57 400.05,323.24 401.36,324.94 402.68,326.68 403.99,328.45 405.31,330.26 406.62,332.1 407.94,333.98 409.25,335.9 410.57,337.85 411.88,339.83 413.2,341.85 414.51,343.91 415.83,346 417.14,348.13 418.46,350.29 419.77,352.49 421.09,354.73 422.4,357 423.72,359.33 425.03,361.7 426.35,364.13 427.66,366.63 428.98,369.19 430.29,371.83 431.61,374.54 432.92,377.33 434.24,380.22 435.55,383.2 436.87,386.27 438.18,389.46 439.5,392.75" fill="none" stroke="#ff2ccc" stroke-width="1.0" />
<circle cx="285.8" cy="272.5" r="2.35" fill="#ff1ccb" stroke="none" stroke-width="0.6"/>
<circle cx="293.4" cy="272.4" r="2.35" fill="#ff1ccb" stroke="none" stroke-width="0.6"/>
<circle cx="316.3" cy="281.2" r="2.35" fill="#ff1ccb" stroke="none" stroke-width="0.6"/>
<circle cx="347" cy="280.5" r="2.35" fill="#ff1ccb" stroke="none" stroke-width="0.6"/>
<circle cx="383.7" cy="300.5" r="2.35" fill="#ff1ccb" stroke="none" stroke-width="0.6"/>
<circle cx="420" cy="350.5" r="2.35" fill="#ff1ccb" stroke="none" stroke-width="0.6"/>
<circle cx="438.3" cy="392" r="2.35" fill="#ff1ccb" stroke="none" stroke-width="0.6"/>
</g>
<ellipse cx="292.6" cy="393.1" rx="8.6" ry="6.1" fill="none" stroke="#222" stroke-width="0.8"/>
<line x1="293.2" y1="387.2" x2="300.6" y2="380.2" stroke="#222" stroke-width="0.8"/>
<polygon points="303.2,377.6 298.9,379.6 301.3,382.0" fill="#111"/>
<line x1="362" y1="261.5" x2="378" y2="261.5" stroke="#7b82f5" stroke-width="1.0"/>
<polygon points="370,258.69 372.6,263.37 367.4,263.37" fill="#5e6cf2" stroke="none" stroke-width="0.6"/>
<text x="379.8" y="264" font-size="7.1" text-anchor="start" fill="#111" >Reference</text>
<line x1="362" y1="270.35" x2="378" y2="270.35" stroke="#f7a3a3" stroke-width="1.0"/>
<rect x="367.85" y="268.2" width="4.3" height="4.3" fill="#f6a8a8" stroke="none" stroke-width="0.6"/>
<text x="379.8" y="272.85" font-size="7.1" text-anchor="start" fill="#111" >Attached PET (30 um)</text>
<line x1="362" y1="279.2" x2="378" y2="279.2" stroke="#ff1ccb" stroke-width="1.5"/>
<circle cx="370" cy="279.2" r="2.3" fill="#ff1ccb" stroke="none" stroke-width="0.6"/>
<text x="379.8" y="281.7" font-size="7.1" text-anchor="start" fill="#111" >Parylene-C (500 nm)</text>
<rect x="305.5" y="308.5" width="79.0" height="63.80000000000001" fill="#fff" stroke="#5a5a5a" stroke-width="0.7"/>
<line x1="304" y1="372.2" x2="305.5" y2="372.2" stroke="#444" stroke-width="0.5"/>
<text x="304.2" y="373.9" font-size="4.9" text-anchor="end" fill="#222" style="stroke:#222;stroke-width:0.1px">0</text>
<line x1="304" y1="360.62" x2="305.5" y2="360.62" stroke="#444" stroke-width="0.5"/>
<text x="304.2" y="362.32" font-size="4.9" text-anchor="end" fill="#222" style="stroke:#222;stroke-width:0.1px">20</text>
<line x1="304" y1="349.04" x2="305.5" y2="349.04" stroke="#444" stroke-width="0.5"/>
<text x="304.2" y="350.74" font-size="4.9" text-anchor="end" fill="#222" style="stroke:#222;stroke-width:0.1px">40</text>
<line x1="304" y1="337.46" x2="305.5" y2="337.46" stroke="#444" stroke-width="0.5"/>
<text x="304.2" y="339.16" font-size="4.9" text-anchor="end" fill="#222" style="stroke:#222;stroke-width:0.1px">60</text>
<line x1="304" y1="325.88" x2="305.5" y2="325.88" stroke="#444" stroke-width="0.5"/>
<text x="304.2" y="327.58" font-size="4.9" text-anchor="end" fill="#222" style="stroke:#222;stroke-width:0.1px">80</text>
<line x1="304" y1="314.3" x2="305.5" y2="314.3" stroke="#444" stroke-width="0.5"/>
<text x="304.2" y="316" font-size="4.9" text-anchor="end" fill="#222" style="stroke:#222;stroke-width:0.1px">100</text>
<line x1="305.8" y1="372.3" x2="305.8" y2="373.8" stroke="#444" stroke-width="0.5"/>
<text x="305.8" y="377.9" font-size="4.9" text-anchor="middle" fill="#222" style="stroke:#222;stroke-width:0.1px">0</text>
<line x1="321.5" y1="372.3" x2="321.5" y2="373.8" stroke="#444" stroke-width="0.5"/>
<text x="321.5" y="377.9" font-size="4.9" text-anchor="middle" fill="#222" style="stroke:#222;stroke-width:0.1px">2</text>
<line x1="337.2" y1="372.3" x2="337.2" y2="373.8" stroke="#444" stroke-width="0.5"/>
<text x="337.2" y="377.9" font-size="4.9" text-anchor="middle" fill="#222" style="stroke:#222;stroke-width:0.1px">4</text>
<line x1="352.9" y1="372.3" x2="352.9" y2="373.8" stroke="#444" stroke-width="0.5"/>
<text x="352.9" y="377.9" font-size="4.9" text-anchor="middle" fill="#222" style="stroke:#222;stroke-width:0.1px">6</text>
<line x1="368.6" y1="372.3" x2="368.6" y2="373.8" stroke="#444" stroke-width="0.5"/>
<text x="368.6" y="377.9" font-size="4.9" text-anchor="middle" fill="#222" style="stroke:#222;stroke-width:0.1px">8</text>
<line x1="384.3" y1="372.3" x2="384.3" y2="373.8" stroke="#444" stroke-width="0.5"/>
<text x="384.3" y="377.9" font-size="4.9" text-anchor="middle" fill="#222" style="stroke:#222;stroke-width:0.1px">10</text>
<text x="344.7" y="384" font-size="4.9" text-anchor="middle" fill="#222" style="stroke:#222;stroke-width:0.1px">Time (hours)</text>
<text transform="translate(294.0,344.3) rotate(-90)" font-size="4.5" text-anchor="middle" fill="#222" style="stroke:#222;stroke-width:0.1px">Relative radiance (%)</text>
<polyline points="305.8,314 308.6,372" fill="none" stroke="#7b82f5" stroke-width="0.7" />
<polygon points="308.6,370.41 309.7,372.39 307.5,372.39" fill="#5e6cf2" stroke="none" stroke-width="0.6"/>
<polyline points="305.8,314 309.6,313.9 311.7,310 312.8,314 316.2,335 318.7,372" fill="none" stroke="#f7a3a3" stroke-width="0.6" />
<rect x="310.8" y="309.1" width="1.8" height="1.8" fill="none" stroke="#f7a3a3" stroke-width="0.5"/>
<rect x="315.3" y="334.1" width="1.8" height="1.8" fill="none" stroke="#f7a3a3" stroke-width="0.5"/>
<rect x="308.7" y="313" width="1.8" height="1.8" fill="none" stroke="#f7a3a3" stroke-width="0.5"/>
<polyline points="305.8,313.7 320,313.2 340,313.2 360,313.3 375,314 384.3,314.8" fill="none" stroke="#ff44d2" stroke-width="0.6" />
<circle cx="306.3" cy="313.8" r="1.3" fill="#ff1ccb" stroke="none" stroke-width="0.6"/>
<circle cx="309.2" cy="313.8" r="1.3" fill="#ff1ccb" stroke="none" stroke-width="0.6"/>
<circle cx="313.6" cy="314.1" r="1.3" fill="#ff1ccb" stroke="none" stroke-width="0.6"/>
<circle cx="321.5" cy="313.1" r="1.3" fill="#ff1ccb" stroke="none" stroke-width="0.6"/>
<circle cx="360.7" cy="313.1" r="1.3" fill="#ff1ccb" stroke="none" stroke-width="0.6"/>
<line x1="505.5" y1="256.5" x2="675.5" y2="256.5" stroke="#3a3a3a" stroke-width="1"/>
<line x1="505.5" y1="256.5" x2="505.5" y2="393.5" stroke="#333" stroke-width="1"/>
<line x1="675.5" y1="256.5" x2="675.5" y2="393" stroke="#777" stroke-width="1"/>
<line x1="505.5" y1="393" x2="675.5" y2="393" stroke="#a0a0a0" stroke-width="1.6"/>
<line x1="504" y1="390.4" x2="505.5" y2="390.4" stroke="#333" stroke-width="0.9"/>
<line x1="502.5" y1="378.2" x2="505.5" y2="378.2" stroke="#333" stroke-width="0.9"/>
<line x1="504" y1="366" x2="505.5" y2="366" stroke="#333" stroke-width="0.9"/>
<line x1="502.5" y1="353.8" x2="505.5" y2="353.8" stroke="#333" stroke-width="0.9"/>
<line x1="504" y1="341.6" x2="505.5" y2="341.6" stroke="#333" stroke-width="0.9"/>
<line x1="502.5" y1="329.4" x2="505.5" y2="329.4" stroke="#333" stroke-width="0.9"/>
<line x1="504" y1="317.2" x2="505.5" y2="317.2" stroke="#333" stroke-width="0.9"/>
<line x1="502.5" y1="305" x2="505.5" y2="305" stroke="#333" stroke-width="0.9"/>
<line x1="504" y1="292.8" x2="505.5" y2="292.8" stroke="#333" stroke-width="0.9"/>
<line x1="502.5" y1="280.6" x2="505.5" y2="280.6" stroke="#333" stroke-width="0.9"/>
<line x1="504" y1="268.4" x2="505.5" y2="268.4" stroke="#333" stroke-width="0.9"/>
<line x1="502.5" y1="256.2" x2="505.5" y2="256.2" stroke="#333" stroke-width="0.9"/>
<line x1="509.1" y1="393" x2="509.1" y2="396" stroke="#333" stroke-width="0.9"/>
<line x1="522.97" y1="393" x2="522.97" y2="394.3" stroke="#333" stroke-width="0.9"/>
<line x1="536.84" y1="393" x2="536.84" y2="396" stroke="#333" stroke-width="0.9"/>
<line x1="550.71" y1="393" x2="550.71" y2="394.3" stroke="#333" stroke-width="0.9"/>
<line x1="564.58" y1="393" x2="564.58" y2="396" stroke="#333" stroke-width="0.9"/>
<line x1="578.45" y1="393" x2="578.45" y2="394.3" stroke="#333" stroke-width="0.9"/>
<line x1="592.32" y1="393" x2="592.32" y2="396" stroke="#333" stroke-width="0.9"/>
<line x1="606.19" y1="393" x2="606.19" y2="394.3" stroke="#333" stroke-width="0.9"/>
<line x1="620.06" y1="393" x2="620.06" y2="396" stroke="#333" stroke-width="0.9"/>
<line x1="633.93" y1="393" x2="633.93" y2="394.3" stroke="#333" stroke-width="0.9"/>
<line x1="647.8" y1="393" x2="647.8" y2="396" stroke="#333" stroke-width="0.9"/>
<line x1="661.67" y1="393" x2="661.67" y2="394.3" stroke="#333" stroke-width="0.9"/>
<line x1="675.54" y1="393" x2="675.54" y2="396" stroke="#333" stroke-width="0.9"/>
<text x="501.6" y="381.5" font-size="9.2" text-anchor="end" fill="#111" >25</text>
<text x="501.6" y="357.1" font-size="9.2" text-anchor="end" fill="#111" >30</text>
<text x="501.6" y="332.7" font-size="9.2" text-anchor="end" fill="#111" >35</text>
<text x="501.6" y="308.3" font-size="9.2" text-anchor="end" fill="#111" >40</text>
<text x="501.6" y="283.9" font-size="9.2" text-anchor="end" fill="#111" >45</text>
<text x="501.6" y="259.5" font-size="9.2" text-anchor="end" fill="#111" >50</text>
<text x="509.1" y="404.7" font-size="9.2" text-anchor="middle" fill="#111" >0</text>
<text x="536.84" y="404.7" font-size="9.2" text-anchor="middle" fill="#111" >200</text>
<text x="564.58" y="404.7" font-size="9.2" text-anchor="middle" fill="#111" >400</text>
<text x="592.32" y="404.7" font-size="9.2" text-anchor="middle" fill="#111" >600</text>
<text x="620.06" y="404.7" font-size="9.2" text-anchor="middle" fill="#111" >800</text>
<text x="647.8" y="404.7" font-size="9.2" text-anchor="middle" fill="#111" >1000</text>
<text x="675.54" y="404.7" font-size="9.2" text-anchor="middle" fill="#111" >1200</text>
<text x="590.4" y="418.8" font-size="9.2" text-anchor="middle" fill="#111" >Time (seconds)</text>
<text transform="translate(481.9,324.7) rotate(-90)" font-size="9.2" text-anchor="middle" fill="#111">Temperature (<tspan dy="-3.3" font-size="6">o</tspan><tspan dy="3.3">C)</tspan></text>
<clipPath id="ce"><rect x="506.0" y="256.5" width="169.5" height="136.5"/></clipPath>
<g clip-path="url(#ce)">
<polyline points="509.1,379.5 509.5,375.75 509.8,372.93 510.2,371.28 510.6,369.63 511.2,369.19 512,368.6 513.2,368.86 514.4,368.58 515.6,367.57 516.8,367.52 518,367.48 519.2,367.74 520.4,367.72 521.6,367.72 522.8,367.88 524,368.46 525.2,367.83 526.4,367.77 527.6,368.21 528.8,367.41 530,367.48 531.2,368.53 532.4,367.77 533.6,367.78 534.8,366.89 536,367.55 537.2,367.87 538.4,367.02 539.6,368.02 540.8,368.09 542,367.23 543.2,368.18 544.4,367.96 545.6,368.31 546.8,367.79 548,368.37 549.2,368.42 550.4,367.29 551.6,367.35 552.8,368.35 554,368.7 555.2,367.46 556.4,367.68 557.6,367.8 558.8,367.25 560,367.22 561.2,367.03 562.4,367.09 563.6,367.44 564.8,366.96 566,367.08 567.2,367.71 568.4,366.51 569.6,367.37 570.8,367.7 572,367.18 573.2,367.2 574.4,368.29 575.6,367.55 576.8,367.63 578,368.18 579.2,368.73 580.4,367.67 581.6,367.91 582.8,367.82 584,368.52 585.2,367.78 586.4,368.34 587.6,367.13 588.8,367.38 590,367.88 591.2,368.25 592.4,367.56 593.6,367.19 594.8,367.02 596,367.68 597.2,367.21 598.4,368.35 599.6,368.55 600.8,367.65 602,367.95 603.2,368.95 604.4,368.83 605.6,369.18 606.8,368.35 608,367.9 609.2,368.07 610.4,368.77 611.6,367.84 612.8,367.86 614,367.87 615.2,367.95 616.4,368 617.6,368.89 618.8,367.74 620,367.57 621.2,369.15 622.4,369.12 623.6,369.27 624.8,368.32 626,369.08 627.2,368.98 628.4,367.79 629.6,368.56 630.8,368.64 632,368.33 633.2,368.13 634.4,367.8 635.6,367.92 636.8,367.77 638,367.55 639.2,368.42 640.4,367.96 641.6,368.7 642.8,367.39 644,368.67 645.2,368.25 646.4,368.52 647.6,368.39 648.8,368.3 650,367.84 651.2,367.04 652.4,368.31 653.6,367.48 654.8,367.78 656,368.46 657.2,368.34 658.4,368.23 659.6,369.12 660.8,368.64 662,368.26 663.2,368.16 664.4,369.19 665.6,368.62 666.8,369.13 668,368.38 669.2,368.07 670.4,368.55 671.6,368.93 672.8,367.84 674,368.77 675.2,368.91" fill="none" stroke="#f7c6de" stroke-width="0.9" />
<polyline points="509.1,378.6 509.5,374.19 509.8,370.89 510.2,369.24 510.6,367.59 511.2,367.14 512,366.55 513.2,366.57 514.4,366.42 515.6,364.93 516.8,365.74 518,365.96 519.2,364.65 520.4,365 521.6,364.98 522.8,365.38 524,365.21 525.2,365.28 526.4,365.75 527.6,364.4 528.8,364.35 530,364.34 531.2,364.21 532.4,363.99 533.6,365.31 534.8,364.99 536,363.8 537.2,364.62 538.4,364.48 539.6,364.63 540.8,364.85 542,365.48 543.2,365.54 544.4,365.28 545.6,364.98 546.8,365.17 548,364.81 549.2,365.46 550.4,365.69 551.6,365.12 552.8,364.61 554,364.71 555.2,364.96 556.4,365.27 557.6,365.5 558.8,364.79 560,365.41 561.2,365.06 562.4,364.7 563.6,364.55 564.8,364.69 566,364.97 567.2,364.46 568.4,364.85 569.6,364.42 570.8,364.12 572,364.77 573.2,365.22 574.4,364.41 575.6,365.16 576.8,365.35 578,366.26 579.2,366.51 580.4,365.53 581.6,366.28 582.8,366.03 584,365.1 585.2,365.34 586.4,364.72 587.6,365.74 588.8,365.53 590,365.95 591.2,365.86 592.4,365.72 593.6,365.88 594.8,365.67 596,364.99 597.2,365.81 598.4,364.92 599.6,365.18 600.8,366.23 602,365.1 603.2,365.22 604.4,365.27 605.6,366.54 606.8,365.39 608,365.11 609.2,366.38 610.4,365.2 611.6,366.32 612.8,366.02 614,366.25 615.2,366.48 616.4,365.93 617.6,366.34 618.8,365.17 620,366.39 621.2,366.03 622.4,366.4 623.6,365.37 624.8,366.29 626,366.47 627.2,364.97 628.4,365.28 629.6,365.55 630.8,365.86 632,364.89 633.2,364.88 634.4,365.09 635.6,365.77 636.8,366.08 638,365.6 639.2,365.65 640.4,365.78 641.6,365.63 642.8,365.66 644,365.06 645.2,365.65 646.4,366.33 647.6,365.36 648.8,365.82 650,364.96 651.2,365.92 652.4,366.14 653.6,366.12 654.8,365.98 656,366.04 657.2,366.4 658.4,366.86 659.6,365.66 660.8,365.57 662,366.6 663.2,366.86 664.4,366.22 665.6,366.09 666.8,366.49 668,365.47 669.2,365.43 670.4,365.16 671.6,365.61 672.8,365.01 674,364.71 675.2,365.28" fill="none" stroke="#f7c6de" stroke-width="0.9" />
<polygon points="517.8,365.17 519.9,368.95 515.7,368.95" fill="#f6bfdb" stroke="none" stroke-width="0.6"/>
<polygon points="526.55,365.62 528.65,369.4 524.45,369.4" fill="#f6bfdb" stroke="none" stroke-width="0.6"/>
<polygon points="535.3,365.39 537.4,369.17 533.2,369.17" fill="#f6bfdb" stroke="none" stroke-width="0.6"/>
<polygon points="544.05,365.74 546.15,369.52 541.95,369.52" fill="#f6bfdb" stroke="none" stroke-width="0.6"/>
<polygon points="552.8,365.8 554.9,369.58 550.7,369.58" fill="#f6bfdb" stroke="none" stroke-width="0.6"/>
<polygon points="561.55,365.04 563.65,368.82 559.45,368.82" fill="#f6bfdb" stroke="none" stroke-width="0.6"/>
<polygon points="570.3,364.98 572.4,368.76 568.2,368.76" fill="#f6bfdb" stroke="none" stroke-width="0.6"/>
<polygon points="579.05,366.16 581.15,369.94 576.95,369.94" fill="#f6bfdb" stroke="none" stroke-width="0.6"/>
<polygon points="587.8,365.37 589.9,369.15 585.7,369.15" fill="#f6bfdb" stroke="none" stroke-width="0.6"/>
<polygon points="596.55,365.36 598.65,369.14 594.45,369.14" fill="#f6bfdb" stroke="none" stroke-width="0.6"/>
<polygon points="605.3,366.45 607.4,370.23 603.2,370.23" fill="#f6bfdb" stroke="none" stroke-width="0.6"/>
<polygon points="614.05,365.74 616.15,369.52 611.95,369.52" fill="#f6bfdb" stroke="none" stroke-width="0.6"/>
<polygon points="622.8,366.27 624.9,370.05 620.7,370.05" fill="#f6bfdb" stroke="none" stroke-width="0.6"/>
<polygon points="631.55,365.79 633.65,369.57 629.45,369.57" fill="#f6bfdb" stroke="none" stroke-width="0.6"/>
<polygon points="640.3,366.04 642.4,369.82 638.2,369.82" fill="#f6bfdb" stroke="none" stroke-width="0.6"/>
<polygon points="649.05,365.38 651.15,369.16 646.95,369.16" fill="#f6bfdb" stroke="none" stroke-width="0.6"/>
<polygon points="657.8,366.08 659.9,369.86 655.7,369.86" fill="#f6bfdb" stroke="none" stroke-width="0.6"/>
<polygon points="666.55,366.43 668.65,370.21 664.45,370.21" fill="#f6bfdb" stroke="none" stroke-width="0.6"/>
<polygon points="675.3,365.97 677.4,369.75 673.2,369.75" fill="#f6bfdb" stroke="none" stroke-width="0.6"/>
<polygon points="517.8,363.33 519.7,366.75 515.9,366.75" fill="#fff" stroke="#f6bfdb" stroke-width="0.7"/>
<polygon points="526.55,363.26 528.45,366.68 524.65,366.68" fill="#fff" stroke="#f6bfdb" stroke-width="0.7"/>
<polygon points="535.3,362.32 537.2,365.74 533.4,365.74" fill="#fff" stroke="#f6bfdb" stroke-width="0.7"/>
<polygon points="544.05,363.46 545.95,366.88 542.15,366.88" fill="#fff" stroke="#f6bfdb" stroke-width="0.7"/>
<polygon points="552.8,363.23 554.7,366.65 550.9,366.65" fill="#fff" stroke="#f6bfdb" stroke-width="0.7"/>
<polygon points="561.55,362.8 563.45,366.22 559.65,366.22" fill="#fff" stroke="#f6bfdb" stroke-width="0.7"/>
<polygon points="570.3,362.4 572.2,365.82 568.4,365.82" fill="#fff" stroke="#f6bfdb" stroke-width="0.7"/>
<polygon points="579.05,363.77 580.95,367.19 577.15,367.19" fill="#fff" stroke="#f6bfdb" stroke-width="0.7"/>
<polygon points="587.8,363.17 589.7,366.59 585.9,366.59" fill="#fff" stroke="#f6bfdb" stroke-width="0.7"/>
<polygon points="596.55,363.6 598.45,367.02 594.65,367.02" fill="#fff" stroke="#f6bfdb" stroke-width="0.7"/>
<polygon points="605.3,363.89 607.2,367.31 603.4,367.31" fill="#fff" stroke="#f6bfdb" stroke-width="0.7"/>
<polygon points="614.05,363.66 615.95,367.08 612.15,367.08" fill="#fff" stroke="#f6bfdb" stroke-width="0.7"/>
<polygon points="622.8,364.02 624.7,367.44 620.9,367.44" fill="#fff" stroke="#f6bfdb" stroke-width="0.7"/>
<polygon points="631.55,363.21 633.45,366.63 629.65,366.63" fill="#fff" stroke="#f6bfdb" stroke-width="0.7"/>
<polygon points="640.3,363.9 642.2,367.32 638.4,367.32" fill="#fff" stroke="#f6bfdb" stroke-width="0.7"/>
<polygon points="649.05,363.36 650.95,366.78 647.15,366.78" fill="#fff" stroke="#f6bfdb" stroke-width="0.7"/>
<polygon points="657.8,364.18 659.7,367.6 655.9,367.6" fill="#fff" stroke="#f6bfdb" stroke-width="0.7"/>
<polygon points="666.55,364.12 668.45,367.54 664.65,367.54" fill="#fff" stroke="#f6bfdb" stroke-width="0.7"/>
<polygon points="675.3,362.91 677.2,366.33 673.4,366.33" fill="#fff" stroke="#f6bfdb" stroke-width="0.7"/>
<polyline points="509.1,378.8 509.5,372.46 509.8,367.7 510.2,366.05 510.6,364.4 511.2,363.96 512,363.37 513.2,363.62 514.4,362.39 515.6,362.86 516.8,362.21 518,362.77 519.2,362.36 520.4,361.87 521.6,361.81 522.8,361.51 524,362.26 525.2,362.12 526.4,361.81 527.6,362.3 528.8,362.46 530,363.4 531.2,362.61 532.4,364.19 533.6,363.59 534.8,364 536,363.79 537.2,364.21 538.4,364.02 539.6,363.43 540.8,363.15 542,363.36 543.2,363.41 544.4,362.58 545.6,363.17 546.8,363.58 548,362.84 549.2,362.51 550.4,362.57 551.6,363.4 552.8,363.38 554,363.73 555.2,363.46 556.4,362.37 557.6,362.19 558.8,362.19 560,361.97 561.2,362.7 562.4,362.95 563.6,363.08 564.8,362.1 566,363.13 567.2,362.31 568.4,362.54 569.6,363.08 570.8,362.07 572,362.04 573.2,363.18 574.4,362.27 575.6,362.33 576.8,362.65 578,362.76 579.2,361.65 580.4,362.15 581.6,362.3 582.8,362.36 584,361.9 585.2,362.49 586.4,363.06 587.6,362.14 588.8,362.44 590,361.82 591.2,362.14 592.4,362.83 593.6,362.01 594.8,363.31 596,363.41 597.2,362.14 598.4,363.48 599.6,362.57 600.8,363.2 602,363.17 603.2,362.42 604.4,363.03 605.6,363.01 606.8,363.34 608,362.57 609.2,363.44 610.4,363.86 611.6,363.49 612.8,363.36 614,362.78 615.2,363.32 616.4,363.02 617.6,363.53 618.8,363.4 620,363.14 621.2,362.45 622.4,363.12 623.6,363.12 624.8,362.47 626,363.67 627.2,363.37 628.4,362.58 629.6,363.94 630.8,362.75 632,363.08 633.2,363.68 634.4,363.45 635.6,363.36 636.8,363.48 638,363.15 639.2,362.89 640.4,362.65 641.6,362.51 642.8,363.58 644,363.67 645.2,363.37 646.4,363.72 647.6,363.15 648.8,363.03 650,363.14 651.2,363.82 652.4,362.39 653.6,363.03 654.8,362.52 656,363.25 657.2,362.48 658.4,362.32 659.6,362.27 660.8,362.33 662,362.54 663.2,361.71 664.4,362.34 665.6,361.01 666.8,361.06 668,360.41 669.2,360.06 670.4,360.76 671.6,360.31 672.8,359.07 674,358.7 675.2,358.7" fill="none" stroke="#f08fca" stroke-width="0.9" />
<circle cx="517.8" cy="362.2" r="2" fill="#ef7ec3" stroke="none" stroke-width="0.6"/>
<circle cx="526.55" cy="362.33" r="2" fill="#ef7ec3" stroke="none" stroke-width="0.6"/>
<circle cx="535.3" cy="363.93" r="2" fill="#ef7ec3" stroke="none" stroke-width="0.6"/>
<circle cx="544.05" cy="362.73" r="2" fill="#ef7ec3" stroke="none" stroke-width="0.6"/>
<circle cx="552.8" cy="363.1" r="2" fill="#ef7ec3" stroke="none" stroke-width="0.6"/>
<circle cx="561.55" cy="362.34" r="2" fill="#ef7ec3" stroke="none" stroke-width="0.6"/>
<circle cx="570.3" cy="362.75" r="2" fill="#ef7ec3" stroke="none" stroke-width="0.6"/>
<circle cx="579.05" cy="362.44" r="2" fill="#ef7ec3" stroke="none" stroke-width="0.6"/>
<circle cx="587.8" cy="362.32" r="2" fill="#ef7ec3" stroke="none" stroke-width="0.6"/>
<circle cx="596.55" cy="362.79" r="2" fill="#ef7ec3" stroke="none" stroke-width="0.6"/>
<circle cx="605.3" cy="362.74" r="2" fill="#ef7ec3" stroke="none" stroke-width="0.6"/>
<circle cx="614.05" cy="363.4" r="2" fill="#ef7ec3" stroke="none" stroke-width="0.6"/>
<circle cx="622.8" cy="362.87" r="2" fill="#ef7ec3" stroke="none" stroke-width="0.6"/>
<circle cx="631.55" cy="363.36" r="2" fill="#ef7ec3" stroke="none" stroke-width="0.6"/>
<circle cx="640.3" cy="363.16" r="2" fill="#ef7ec3" stroke="none" stroke-width="0.6"/>
<circle cx="649.05" cy="363.41" r="2" fill="#ef7ec3" stroke="none" stroke-width="0.6"/>
<circle cx="657.8" cy="362.66" r="2" fill="#ef7ec3" stroke="none" stroke-width="0.6"/>
<circle cx="666.55" cy="361.5" r="2" fill="#ef7ec3" stroke="none" stroke-width="0.6"/>
<circle cx="675.3" cy="358.8" r="2" fill="#ef7ec3" stroke="none" stroke-width="0.6"/>
<polyline points="509.1,384 509.5,365.53 509.8,351.67 510.2,350.02 510.6,348.37 511.2,347.93 512,347.34 513.2,347.21 514.4,347.13 515.6,346.85 516.8,346.45 518,345.71 519.2,346.25 520.4,346.16 521.6,346.82 522.8,347.07 524,346.75 525.2,347.01 526.4,347.95 527.6,346.68 528.8,347.48 530,347.33 531.2,347.13 532.4,346.06 533.6,346.02 534.8,345.79 536,345.87 537.2,346.57 538.4,346.37 539.6,346.05 540.8,347.05 542,346.74 543.2,347.11 544.4,347.36 545.6,346.05 546.8,346.83 548,346.38 549.2,345.85 550.4,345.6 551.6,345.21 552.8,344.54 554,345.28 555.2,344.86 556.4,345.78 557.6,346.25 558.8,346.23 560,346.67 561.2,347.49 562.4,347.28 563.6,345.95 564.8,346.6 566,346.1 567.2,345.03 568.4,345.19 569.6,344.75 570.8,344.45 572,345.26 573.2,345.97 574.4,345.29 575.6,346.22 576.8,346.15 578,345.53 579.2,346.66 580.4,346.03 581.6,346.22 582.8,345.66 584,345.43 585.2,344.61 586.4,345 587.6,344.91 588.8,345 590,344.7 591.2,345.43 592.4,345.34 593.6,345.09 594.8,345.29 596,345.62 597.2,345.8 598.4,345.52 599.6,345.77 600.8,345.83 602,345.38 603.2,344.99 604.4,345.08 605.6,344.46 606.8,344.78 608,345.29 609.2,344.89 610.4,344.68 611.6,345.79 612.8,345.64 614,345.24 615.2,345.1 616.4,345.16 617.6,345.09 618.8,344.41 620,343.94 621.2,344.06 622.4,344.71 623.6,343.86 624.8,344.46 626,344.25 627.2,344.42 628.4,344.52 629.6,345.01 630.8,344.83 632,344.63 633.2,344.48 634.4,344.29 635.6,344.48 636.8,343.6 638,343.28 639.2,343.61 640.4,343.33 641.6,343.96 642.8,343.26 644,343.96 645.2,344.17 646.4,343.87 647.6,345.4 648.8,344.57 650,344.29 651.2,344.63 652.4,344.01 653.6,344.46 654.8,343.89 656,343.39 657.2,343.1 658.4,344.06 659.6,343.64 660.8,344.56 662,344.32 663.2,345.19 664.4,344.51 665.6,344.65 666.8,344.77 668,345.21 669.2,344.62 670.4,343.89 671.6,343.21 672.8,343.7 674,343.77 675.2,342.91" fill="none" stroke="#e74aa8" stroke-width="1.3" />
<rect x="515.85" y="344.22" width="3.9" height="3.9" fill="#e5339d" stroke="none" stroke-width="0.6"/>
<rect x="524.6" y="345.63" width="3.9" height="3.9" fill="#e5339d" stroke="none" stroke-width="0.6"/>
<rect x="533.35" y="343.61" width="3.9" height="3.9" fill="#e5339d" stroke="none" stroke-width="0.6"/>
<rect x="542.1" y="345.17" width="3.9" height="3.9" fill="#e5339d" stroke="none" stroke-width="0.6"/>
<rect x="550.85" y="343.02" width="3.9" height="3.9" fill="#e5339d" stroke="none" stroke-width="0.6"/>
<rect x="559.6" y="344.97" width="3.9" height="3.9" fill="#e5339d" stroke="none" stroke-width="0.6"/>
<rect x="568.35" y="343.02" width="3.9" height="3.9" fill="#e5339d" stroke="none" stroke-width="0.6"/>
<rect x="577.1" y="344.24" width="3.9" height="3.9" fill="#e5339d" stroke="none" stroke-width="0.6"/>
<rect x="585.85" y="342.31" width="3.9" height="3.9" fill="#e5339d" stroke="none" stroke-width="0.6"/>
<rect x="594.6" y="344.39" width="3.9" height="3.9" fill="#e5339d" stroke="none" stroke-width="0.6"/>
<rect x="603.35" y="342.75" width="3.9" height="3.9" fill="#e5339d" stroke="none" stroke-width="0.6"/>
<rect x="612.1" y="343.48" width="3.9" height="3.9" fill="#e5339d" stroke="none" stroke-width="0.6"/>
<rect x="620.85" y="342.31" width="3.9" height="3.9" fill="#e5339d" stroke="none" stroke-width="0.6"/>
<rect x="629.6" y="343.44" width="3.9" height="3.9" fill="#e5339d" stroke="none" stroke-width="0.6"/>
<rect x="638.35" y="341.49" width="3.9" height="3.9" fill="#e5339d" stroke="none" stroke-width="0.6"/>
<rect x="647.1" y="343.05" width="3.9" height="3.9" fill="#e5339d" stroke="none" stroke-width="0.6"/>
<rect x="655.85" y="341.69" width="3.9" height="3.9" fill="#e5339d" stroke="none" stroke-width="0.6"/>
<rect x="664.6" y="343.22" width="3.9" height="3.9" fill="#e5339d" stroke="none" stroke-width="0.6"/>
<rect x="673.35" y="340.81" width="3.9" height="3.9" fill="#e5339d" stroke="none" stroke-width="0.6"/>
<polyline points="509.1,370.5 509.5,354.9 509.8,343.19 510.2,341.54 510.6,339.89 511.2,339.45 512,338.86 513.2,337.69 514.4,337.55 515.6,337.45 516.8,337.38 518,337.05 519.2,337.13 520.4,338.02 521.6,338.42 522.8,337.49 524,338.63 525.2,337.99 526.4,338.5 527.6,338.59 528.8,338.54 530,337.18 531.2,337.48 532.4,337.81 533.6,338.21 534.8,336.92 536,337.21 537.2,338.07 538.4,337.11 539.6,337.57 540.8,337.56 542,338.12 543.2,338.54 544.4,337.51 545.6,338.2 546.8,338.09 548,338.14 549.2,337.64 550.4,338.06 551.6,337.18 552.8,337.16 554,337.02 555.2,337.92 556.4,337.63 557.6,337.46 558.8,337.44 560,338.34 561.2,338.31 562.4,338.34 563.6,337.68 564.8,337.61 566,336.93 567.2,337.5 568.4,336.33 569.6,336.74 570.8,337.09 572,337.15 573.2,336.51 574.4,336.87 575.6,337.89 576.8,337.78 578,338.28 579.2,338.39 580.4,337.56 581.6,337.95 582.8,337.49 584,336.7 585.2,336.51 586.4,335.86 587.6,336.09 588.8,336.79 590,335.55 591.2,336.15 592.4,335.46 593.6,335.37 594.8,336.12 596,335.5 597.2,335.23 598.4,335.41 599.6,336.14 600.8,336.09 602,335.32 603.2,335.66 604.4,336.73 605.6,335.69 606.8,336.09 608,335.8 609.2,336.23 610.4,335.89 611.6,336.07 612.8,335.63 614,335.06 615.2,335.04 616.4,334.9 617.6,335.94 618.8,334.94 620,334.81 621.2,336.13 622.4,335.05 623.6,336.02 624.8,334.89 626,335.42 627.2,335.09 628.4,335.94 629.6,335.64 630.8,335.68 632,335.85 633.2,336 634.4,335.26 635.6,335.63 636.8,335.41 638,334.94 639.2,335.95 640.4,335.61 641.6,335.85 642.8,334.92 644,335.32 645.2,335.14 646.4,335.44 647.6,334.46 648.8,334.76 650,334.91 651.2,334.3 652.4,334.94 653.6,335.16 654.8,334.69 656,334.97 657.2,334.88 658.4,334.35 659.6,334.61 660.8,335.58 662,334.72 663.2,334.93 664.4,334.51 665.6,334.77 666.8,334.73 668,335.72 669.2,335.35 670.4,335.48 671.6,335.55 672.8,334.94 674,335.31 675.2,334.67" fill="none" stroke="#ee6fbd" stroke-width="0.9" />
<circle cx="517.8" cy="337.69" r="1.9" fill="#fff" stroke="#ee6fbd" stroke-width="0.8"/>
<circle cx="526.55" cy="338.08" r="1.9" fill="#fff" stroke="#ee6fbd" stroke-width="0.8"/>
<circle cx="535.3" cy="337.46" r="1.9" fill="#fff" stroke="#ee6fbd" stroke-width="0.8"/>
<circle cx="544.05" cy="337.99" r="1.9" fill="#fff" stroke="#ee6fbd" stroke-width="0.8"/>
<circle cx="552.8" cy="337.27" r="1.9" fill="#fff" stroke="#ee6fbd" stroke-width="0.8"/>
<circle cx="561.55" cy="338.2" r="1.9" fill="#fff" stroke="#ee6fbd" stroke-width="0.8"/>
<circle cx="570.3" cy="336.66" r="1.9" fill="#fff" stroke="#ee6fbd" stroke-width="0.8"/>
<circle cx="579.05" cy="337.9" r="1.9" fill="#fff" stroke="#ee6fbd" stroke-width="0.8"/>
<circle cx="587.8" cy="336.19" r="1.9" fill="#fff" stroke="#ee6fbd" stroke-width="0.8"/>
<circle cx="596.55" cy="335.84" r="1.9" fill="#fff" stroke="#ee6fbd" stroke-width="0.8"/>
<circle cx="605.3" cy="336.1" r="1.9" fill="#fff" stroke="#ee6fbd" stroke-width="0.8"/>
<circle cx="614.05" cy="335.49" r="1.9" fill="#fff" stroke="#ee6fbd" stroke-width="0.8"/>
<circle cx="622.8" cy="335.47" r="1.9" fill="#fff" stroke="#ee6fbd" stroke-width="0.8"/>
<circle cx="631.55" cy="335.48" r="1.9" fill="#fff" stroke="#ee6fbd" stroke-width="0.8"/>
<circle cx="640.3" cy="335.48" r="1.9" fill="#fff" stroke="#ee6fbd" stroke-width="0.8"/>
<circle cx="649.05" cy="334.96" r="1.9" fill="#fff" stroke="#ee6fbd" stroke-width="0.8"/>
<circle cx="657.8" cy="334.71" r="1.9" fill="#fff" stroke="#ee6fbd" stroke-width="0.8"/>
<circle cx="666.55" cy="335.22" r="1.9" fill="#fff" stroke="#ee6fbd" stroke-width="0.8"/>
<circle cx="675.3" cy="334.62" r="1.9" fill="#fff" stroke="#ee6fbd" stroke-width="0.8"/>
<polyline points="509.1,386 509.5,342.11 509.8,309.2 510.2,307.55 510.6,305.9 511.2,305.46 512,304.87 513.2,304.28 514.4,304.84 515.6,304.6 516.8,304.48 518,303.7 519.2,304.21 520.4,303.81 521.6,304.75 522.8,304.75 524,303.99 525.2,305 526.4,304.06 527.6,303.83 528.8,304.59 530,303.88 531.2,304.09 532.4,304.15 533.6,303.2 534.8,304.08 536,303.37 537.2,303.56 538.4,303.41 539.6,303.95 540.8,303.93 542,303.26 543.2,302.97 544.4,303.22 545.6,303.38 546.8,302.91 548,303.01 549.2,303.87 550.4,303.78 551.6,304.17 552.8,304.17 554,303.98 555.2,303.14 556.4,302.71 557.6,302.78 558.8,302.86 560,302.81 561.2,302.7 562.4,302.3 563.6,303.12 564.8,302.45 566,302.83 567.2,303.55 568.4,303.57 569.6,302.98 570.8,303.03 572,303.89 573.2,302.52 574.4,302.45 575.6,302.76 576.8,302.51 578,301.75 579.2,301.34 580.4,301.33 581.6,301.97 582.8,301.39 584,301.95 585.2,301.53 586.4,301.65 587.6,300.17 588.8,300.22 590,300.01 591.2,300.75 592.4,300.77 593.6,300.52 594.8,301.37 596,300.89 597.2,301.34 598.4,301.41 599.6,302.06 600.8,301.3 602,300.86 603.2,300.34 604.4,300.67 605.6,300.72 606.8,300.57 608,300.77 609.2,300.59 610.4,299.78 611.6,299.6 612.8,300.44 614,300.46 615.2,300.04 616.4,300.47 617.6,300.15 618.8,299.84 620,299.75 621.2,299.61 622.4,300.56 623.6,300.98 624.8,301.06 626,300.24 627.2,300.28 628.4,300.42 629.6,300.02 630.8,299.49 632,298.99 633.2,298.9 634.4,298.36 635.6,298.4 636.8,299.13 638,299.59 639.2,298.99 640.4,298.83 641.6,298.77 642.8,298.93 644,299.41 645.2,298.9 646.4,299.6 647.6,298.46 648.8,298.67 650,298.94 651.2,298.79 652.4,299.53 653.6,299.62 654.8,299.89 656,299.56 657.2,298.87 658.4,299.76 659.6,299.85 660.8,299.84 662,299.62 663.2,300.29 664.4,300.64 665.6,299.57 666.8,300.43 668,300.09 669.2,300.35 670.4,300.93 671.6,301.08 672.8,300.69 674,300.11 675.2,301.18" fill="none" stroke="#e0409f" stroke-width="0.9" />
<rect x="516" y="301.9" width="3.6" height="3.6" fill="#fff" stroke="#e0409f" stroke-width="0.9"/>
<rect x="524.6" y="302.7" width="3.6" height="3.6" fill="#fff" stroke="#e0409f" stroke-width="0.9"/>
<rect x="533.4" y="301.9" width="3.6" height="3.6" fill="#fff" stroke="#e0409f" stroke-width="0.9"/>
<rect x="542.8" y="301.7" width="3.6" height="3.6" fill="#fff" stroke="#e0409f" stroke-width="0.9"/>
<rect x="551.8" y="301.7" width="3.6" height="3.6" fill="#fff" stroke="#e0409f" stroke-width="0.9"/>
<rect x="560.6" y="300.7" width="3.6" height="3.6" fill="#fff" stroke="#e0409f" stroke-width="0.9"/>
<rect x="570" y="301.7" width="3.6" height="3.6" fill="#fff" stroke="#e0409f" stroke-width="0.9"/>
<rect x="578.2" y="300" width="3.6" height="3.6" fill="#fff" stroke="#e0409f" stroke-width="0.9"/>
<rect x="587.5" y="298.8" width="3.6" height="3.6" fill="#fff" stroke="#e0409f" stroke-width="0.9"/>
<rect x="596.9" y="300" width="3.6" height="3.6" fill="#fff" stroke="#e0409f" stroke-width="0.9"/>
<rect x="605.7" y="298.4" width="3.6" height="3.6" fill="#fff" stroke="#e0409f" stroke-width="0.9"/>
<rect x="614.4" y="298.2" width="3.6" height="3.6" fill="#fff" stroke="#e0409f" stroke-width="0.9"/>
<rect x="623.1" y="298.7" width="3.6" height="3.6" fill="#fff" stroke="#e0409f" stroke-width="0.9"/>
<rect x="631.8" y="297" width="3.6" height="3.6" fill="#fff" stroke="#e0409f" stroke-width="0.9"/>
<rect x="640.6" y="297.2" width="3.6" height="3.6" fill="#fff" stroke="#e0409f" stroke-width="0.9"/>
<rect x="649.3" y="297.1" width="3.6" height="3.6" fill="#fff" stroke="#e0409f" stroke-width="0.9"/>
<rect x="658" y="298" width="3.6" height="3.6" fill="#fff" stroke="#e0409f" stroke-width="0.9"/>
<rect x="666.8" y="298.5" width="3.6" height="3.6" fill="#fff" stroke="#e0409f" stroke-width="0.9"/>
<rect x="507.4" y="381.6" width="3.6" height="3.6" fill="#e5339d" stroke="none" stroke-width="0.6"/>
<rect x="507.4" y="384" width="3.6" height="3.6" fill="#ee74bb" stroke="none" stroke-width="0.6"/>
<polygon points="509.2,376.84 511.2,380.44 507.2,380.44" fill="#f4a9d0" stroke="none" stroke-width="0.6"/>
<circle cx="509.2" cy="379.8" r="1.8" fill="#ef7ec3" stroke="none" stroke-width="0.6"/>
<circle cx="509.2" cy="370.6" r="1.9" fill="#fff" stroke="#ee6fbd" stroke-width="0.8"/>
</g>
<line x1="510.6" y1="264.5" x2="528.5" y2="264.5" stroke="#f7c6de" stroke-width="1.0"/>
<polygon points="519.4,261.8 521.9,266.3 516.9,266.3" fill="#f6bfdb" stroke="none" stroke-width="0.6"/>
<text x="530.8" y="267.4" font-size="8.1" fill="#111">3 mW cm<tspan dy="-3.2" font-size="5.4">-2</tspan></text>
<line x1="510.6" y1="275.35" x2="528.5" y2="275.35" stroke="#f08fca" stroke-width="1.0"/>
<circle cx="519.4" cy="275.35" r="2.4" fill="#ef7ec3" stroke="none" stroke-width="0.6"/>
<text x="530.8" y="278.25" font-size="8.1" fill="#111">4 mW cm<tspan dy="-3.2" font-size="5.4">-2</tspan></text>
<line x1="510.6" y1="286.2" x2="528.5" y2="286.2" stroke="#e74aa8" stroke-width="1.0"/>
<rect x="517.3" y="284.1" width="4.2" height="4.2" fill="#e5339d" stroke="none" stroke-width="0.6"/>
<text x="530.8" y="289.1" font-size="8.1" fill="#111">7 mW cm<tspan dy="-3.2" font-size="5.4">-2</tspan></text>
</svg>
</body></html>
